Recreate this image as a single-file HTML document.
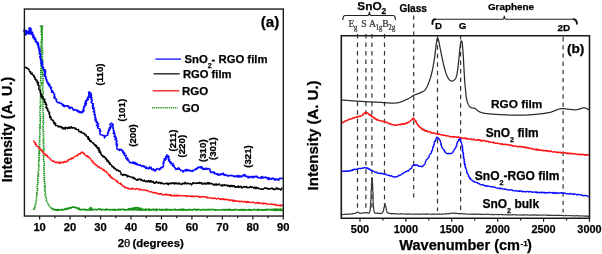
<!DOCTYPE html>
<html><head><meta charset="utf-8"><style>
html,body{margin:0;padding:0;background:#fff;}
svg{display:block;will-change:transform;filter:blur(0.3px);}
</style></head><body>
<svg width="602" height="254" viewBox="0 0 602 254">
<rect width="602" height="254" fill="#fff"/>
<polyline points="33.68,209.99 33.73,209.69 33.72,209.28 34.29,209.00 33.98,208.34 34.44,207.90 34.86,207.37 34.58,206.60 35.03,206.01 35.17,205.63 34.94,205.15 35.24,204.82 35.54,204.48 35.51,204.04 35.78,203.66 35.56,203.14 35.71,202.68 35.75,202.17 36.09,201.67 36.45,201.13 36.35,200.45 36.56,199.78 36.43,198.99 36.69,198.65 36.35,198.22 36.51,197.85 36.78,197.48 36.85,197.08 36.71,196.65 36.55,196.21 36.70,195.80 36.71,195.36 36.79,194.91 37.15,194.49 36.82,193.99 37.27,193.55 37.31,193.07 36.85,192.54 37.08,192.06 37.19,191.55 36.95,191.01 37.23,190.50 37.55,189.98 37.12,189.40 37.45,188.86 37.20,188.27 37.51,187.71 37.74,187.13 37.36,186.50 37.29,185.88 37.37,185.26 37.68,184.65 37.41,183.98 37.48,183.58 37.75,183.18 38.03,182.77 37.75,182.33 37.76,181.90 37.93,181.48 37.63,181.02 37.95,180.59 37.73,180.13 38.02,179.69 38.25,179.25 37.74,178.76 38.06,178.31 38.12,177.84 37.87,177.35 37.96,176.88 38.43,176.42 38.45,175.94 37.95,175.42 38.33,174.95 38.50,174.46 38.10,173.94 38.35,173.45 38.03,172.92 38.25,172.42 38.46,171.92 38.44,171.40 38.57,170.89 38.18,170.35 38.37,169.83 38.70,169.32 38.56,168.78 38.50,168.24 38.50,167.71 38.87,167.19 38.65,166.63 38.34,166.08 38.84,165.55 38.58,165.00 38.67,164.45 38.56,163.89 38.72,163.35 38.67,162.79 38.56,162.23 38.91,161.68 38.61,161.11 39.05,160.57 38.62,159.99 39.09,159.56 39.12,159.12 38.96,158.67 39.10,158.24 38.84,157.80 39.16,157.38 38.99,156.95 38.89,156.52 39.35,156.12 39.03,155.69 39.03,155.28 39.34,154.87 39.07,154.45 39.27,154.04 38.99,153.62 39.41,153.22 39.08,152.79 38.97,152.37 39.54,151.98 39.08,151.55 39.56,151.15 39.61,150.73 39.40,150.30 39.06,149.86 39.11,149.43 39.21,149.01 39.34,148.58 39.49,148.14 39.72,147.71 39.38,147.25 39.27,146.79 39.54,146.34 39.30,145.87 39.29,145.40 39.59,144.93 39.69,144.45 39.33,143.95 39.58,143.46 39.75,142.96 39.80,142.45 39.59,141.92 39.91,141.40 39.50,140.85 39.85,140.31 39.90,139.76 39.98,139.19 39.77,138.60 39.55,138.01 39.54,137.41 39.84,136.81 39.65,136.18 39.94,135.55 39.63,134.89 40.06,134.25 39.75,133.57 39.64,132.88 39.75,132.18 39.94,131.47 40.02,130.74 39.93,130.00 39.81,129.62 40.01,129.24 40.29,128.86 40.06,128.46 40.31,128.07 39.77,127.65 40.36,127.26 40.30,126.84 40.11,126.42 40.10,126.00 40.12,125.57 40.35,125.15 39.85,124.70 40.21,124.27 40.16,123.83 40.02,123.38 40.28,122.93 40.29,122.48 39.93,122.01 40.29,121.55 40.16,121.09 40.19,120.62 40.28,120.14 39.94,119.66 40.28,119.19 40.15,118.70 40.46,118.22 40.08,117.72 40.45,117.24 40.40,116.74 40.35,116.24 40.50,115.74 40.01,115.23 40.35,114.73 40.37,114.22 40.42,113.71 40.27,113.19 40.07,112.67 40.15,112.15 40.41,111.63 40.17,111.11 40.10,110.58 40.29,110.06 40.36,109.53 40.41,109.00 40.12,108.46 40.57,107.93 40.32,107.40 40.60,106.86 40.14,106.32 40.71,105.79 40.51,105.24 40.75,104.70 40.76,104.16 40.68,103.62 40.25,103.06 40.40,102.52 40.34,101.97 40.68,101.43 40.33,100.88 40.36,100.33 40.30,99.78 40.32,99.23 40.82,98.69 40.85,98.14 40.49,97.59 40.72,97.04 40.57,96.49 40.61,95.94 40.52,95.39 40.69,94.84 40.46,94.29 40.48,93.75 40.65,93.20 40.46,92.65 40.62,92.11 40.93,91.57 40.38,91.01 40.44,90.47 40.87,89.94 40.43,89.39 40.55,88.85 40.92,88.32 40.78,87.78 40.56,87.24 40.47,86.70 40.61,86.17 40.63,85.64 40.94,85.12 41.05,84.59 40.95,84.06 41.02,83.54 41.05,83.02 41.02,82.50 41.06,81.98 41.09,81.47 40.58,80.95 40.72,80.44 40.69,79.93 40.91,79.43 40.85,78.92 40.77,78.42 41.07,77.93 40.82,77.43 40.71,76.94 40.76,76.45 40.88,75.97 40.97,75.49 40.96,75.01 40.89,74.54 40.74,74.06 40.88,73.60 40.84,73.14 40.76,72.67 40.99,72.22 40.78,71.77 41.10,71.32 41.08,70.88 40.78,70.43 41.08,70.00 40.91,69.40 40.99,68.80 41.09,68.20 41.20,67.58 41.28,66.96 41.20,66.33 40.90,65.70 41.11,65.06 40.99,64.42 40.81,63.77 41.14,63.12 41.10,62.47 41.35,61.82 41.03,61.15 41.35,60.49 41.17,59.82 40.93,59.15 41.31,58.48 41.06,57.81 41.22,57.14 40.95,56.46 40.92,55.79 41.48,55.12 40.96,54.44 41.03,53.76 41.05,53.09 41.02,52.42 41.46,51.75 41.58,51.08 41.38,50.41 41.23,49.74 41.54,49.09 41.32,48.42 41.10,47.76 41.45,47.11 41.26,46.46 41.21,45.82 41.25,45.17 41.30,44.54 41.19,43.91 41.45,43.29 41.62,42.67 41.45,42.05 41.12,41.44 41.53,40.84 41.14,40.25 41.43,39.66 41.67,39.09 41.56,38.52 41.71,37.96 41.63,37.40 41.35,36.85 41.28,36.32 41.47,35.79 41.62,35.28 41.36,34.77 41.42,34.28 41.68,33.80 41.45,33.32 41.61,32.86 41.59,32.41 41.83,31.98 41.29,31.54 41.40,31.13 41.76,30.74 41.71,30.35 41.37,29.97 41.40,29.62 41.46,29.27 41.67,28.95 41.89,28.64 41.49,28.33 41.49,28.05 41.79,27.79 41.64,27.53 41.90,27.31 42.00,27.10 41.97,26.90 41.85,26.71 41.73,26.54 41.47,26.37 41.93,26.28 41.69,26.15 41.74,26.06 41.85,26.00 42.05,26.00 41.82,25.92 41.80,26.15 41.55,26.02 42.06,25.89 41.91,25.98 41.60,26.09 41.69,26.17 41.57,26.28 42.05,26.38 41.85,26.54 41.62,26.71 41.87,26.88 41.80,27.09 41.62,27.31 42.11,27.53 42.19,27.78 41.72,28.06 41.90,28.34 42.13,28.63 41.76,28.95 42.10,29.27 42.20,29.62 42.11,29.98 42.28,30.34 42.07,30.74 41.85,31.14 42.05,31.55 41.76,31.98 42.32,32.40 42.25,32.86 42.28,33.32 42.03,33.80 42.26,34.28 41.99,34.78 42.09,35.28 42.06,35.80 41.91,36.32 41.95,36.86 41.88,37.40 42.35,37.95 42.23,38.51 41.89,39.09 42.23,39.66 42.31,40.25 42.20,40.84 42.39,41.44 42.00,42.05 42.14,42.67 42.47,43.28 41.96,43.91 42.23,44.54 42.40,45.17 42.20,45.82 42.00,46.47 42.37,47.11 42.58,47.76 42.48,48.42 42.57,49.08 42.30,49.75 42.44,50.41 42.13,51.08 42.52,51.75 42.65,52.42 42.38,53.09 42.60,53.76 42.50,54.44 42.56,55.11 42.59,55.79 42.33,56.47 42.16,57.14 42.51,57.81 42.35,58.48 42.55,59.15 42.21,59.82 42.43,60.49 42.76,61.15 42.34,61.81 42.66,62.47 42.77,63.12 42.80,63.77 42.31,64.42 42.40,65.06 42.62,65.70 42.51,66.33 42.43,66.96 42.82,67.58 42.45,68.20 42.46,68.80 42.33,69.41 42.86,70.00 42.56,70.44 42.61,70.88 42.41,71.32 42.71,71.77 42.54,72.22 42.40,72.68 42.74,73.14 42.64,73.60 42.42,74.07 42.95,74.53 42.39,75.02 42.79,75.49 42.71,75.97 42.82,76.45 42.52,76.95 42.69,77.44 42.57,77.93 42.96,78.42 42.50,78.93 42.55,79.43 42.64,79.93 42.92,80.44 42.90,80.95 42.80,81.46 43.03,81.97 42.51,82.50 42.84,83.01 42.52,83.54 42.99,84.06 42.72,84.59 42.64,85.12 42.74,85.64 42.88,86.17 43.13,86.70 42.88,87.24 42.92,87.78 42.59,88.32 42.58,88.86 42.60,89.40 42.59,89.94 43.09,90.47 43.18,91.02 43.03,91.56 43.21,92.10 43.15,92.65 42.88,93.20 43.11,93.75 42.87,94.30 43.02,94.84 43.09,95.39 42.68,95.94 43.16,96.49 42.75,97.04 42.97,97.59 42.89,98.14 43.21,98.68 42.86,99.24 42.78,99.79 43.20,100.33 43.04,100.88 42.94,101.43 43.05,101.98 42.89,102.52 42.97,103.07 43.17,103.61 42.96,104.16 42.91,104.70 43.10,105.24 43.03,105.78 43.01,106.32 43.12,106.86 43.36,107.39 43.17,107.93 42.96,108.47 42.99,109.00 43.39,109.53 43.16,110.06 43.10,110.59 43.14,111.11 43.37,111.63 43.08,112.16 43.06,112.67 43.16,113.19 42.93,113.71 43.15,114.22 43.50,114.72 43.34,115.23 43.09,115.74 43.47,116.23 42.95,116.74 43.12,117.23 43.08,117.73 43.45,118.21 43.55,118.70 43.04,119.19 43.26,119.67 43.31,120.14 43.27,120.62 43.12,121.09 43.37,121.55 43.13,122.02 43.50,122.47 43.02,122.93 43.20,123.38 43.43,123.83 43.34,124.27 43.10,124.71 43.44,125.14 43.22,125.58 43.10,126.00 43.08,126.42 43.50,126.84 43.19,127.25 43.30,127.66 43.19,128.06 43.64,128.46 43.44,128.85 43.42,129.24 43.21,129.62 43.43,130.00 43.68,130.74 43.59,131.47 43.23,132.18 43.21,132.88 43.40,133.56 43.71,134.22 43.30,134.88 43.25,135.52 43.60,136.14 43.49,136.76 43.62,137.36 43.76,137.94 43.36,138.53 43.71,139.09 43.76,139.65 43.27,140.20 43.77,140.73 43.37,141.26 43.35,141.78 43.69,142.28 43.62,142.79 43.72,143.28 43.43,143.76 43.28,144.24 43.42,144.71 43.57,145.18 43.55,145.64 43.63,146.09 43.45,146.54 43.73,146.98 43.74,147.42 43.48,147.86 43.75,148.28 43.31,148.72 43.47,149.14 43.81,149.56 43.91,149.98 43.57,150.40 43.85,150.82 43.64,151.24 43.58,151.65 43.46,152.07 43.72,152.49 43.63,152.90 43.48,153.33 43.89,153.74 43.78,154.16 43.50,154.59 43.78,155.01 43.45,155.45 43.96,155.87 43.97,156.31 43.81,156.76 43.76,157.20 43.83,157.65 43.92,158.11 43.80,158.57 43.54,159.05 43.53,159.52 43.72,160.00 43.96,160.52 43.78,161.05 44.04,161.57 44.11,162.11 43.69,162.65 44.02,163.19 44.10,163.73 43.71,164.28 44.15,164.82 44.09,165.37 44.16,165.92 43.73,166.48 43.87,167.03 44.19,167.58 44.27,168.13 43.78,168.70 44.26,169.24 43.93,169.80 43.96,170.36 44.04,170.91 44.12,171.46 44.17,172.01 44.27,172.56 44.07,173.12 44.38,173.65 44.20,174.20 44.35,174.74 44.30,175.28 44.01,175.83 44.22,176.36 44.19,176.89 44.21,177.42 44.62,177.93 44.17,178.46 44.13,178.98 44.23,179.49 44.38,179.99 44.21,180.49 44.17,180.99 44.59,181.46 44.67,181.94 44.59,182.42 44.80,182.88 44.69,183.35 44.81,183.80 44.87,184.25 44.66,184.70 44.92,185.12 44.65,185.56 44.45,185.99 44.56,186.40 44.98,186.78 44.59,187.19 44.94,187.55 44.59,187.95 44.71,188.31 44.83,189.15 44.95,189.94 44.68,190.72 45.20,191.39 44.84,192.09 45.31,192.69 45.44,193.27 45.42,193.84 45.59,194.36 45.18,194.92 45.62,195.34 45.46,195.83 45.70,196.24 45.72,196.66 45.54,197.11 45.75,197.48 46.00,197.83 45.80,198.26 46.23,198.56 46.38,198.91 46.09,199.37 46.10,199.77 46.25,200.14 46.47,200.79 46.53,201.44 46.74,202.00 47.15,202.44 47.58,202.82 47.60,203.37 47.91,203.75 48.02,204.23 48.45,204.50 48.85,204.76 49.07,205.17 49.37,205.50 49.39,206.09 49.77,206.50 50.19,206.86 50.65,207.17 50.84,207.73 51.35,207.97 51.73,208.33" fill="none" stroke="#169416" stroke-width="1.6" stroke-dasharray="1.4 0.8"/>
<polyline points="51.29,208.05 51.77,208.29 52.12,208.71 52.75,208.71 52.99,209.45 53.53,209.69 54.16,209.73 54.69,209.40 55.08,209.80 55.59,209.68 56.10,209.65 56.61,210.31 57.17,210.36 57.73,209.50 58.31,210.22 58.87,209.96 59.43,209.73 59.98,209.61 60.55,209.92 61.06,209.68 61.59,209.84 62.06,209.78 62.47,209.27 63.13,209.78 63.72,209.90 64.25,209.80 64.69,209.39 65.05,208.79 65.50,208.64 65.98,208.64 66.61,209.23 66.95,208.55 67.45,208.49 68.08,208.85 68.47,208.23 69.04,208.31 69.57,208.07 70.04,207.61 70.72,207.91 71.34,208.00 71.75,207.27 72.31,207.20 72.88,207.27 73.34,206.86 73.86,207.21 74.28,207.49 74.94,207.39 75.55,207.42 75.97,207.88 76.71,207.53 77.01,208.12 77.56,208.20 77.96,208.58 78.59,208.36 78.72,209.09 79.33,208.71 79.66,208.93 79.95,209.64 80.54,209.90 81.41,209.54 81.78,209.55 82.22,209.43 82.70,209.49 83.20,209.82 83.77,209.45 84.35,209.42 84.93,209.74 85.54,209.49 86.14,209.93 86.75,210.09 87.34,210.05 87.91,209.78 88.45,209.65 88.96,209.70 89.39,209.29 89.86,209.89 90.15,209.51 90.39,209.48 90.84,208.99 91.15,208.41 90.99,207.75 90.80,207.60 90.38,207.68 90.32,208.45 90.72,209.04 91.18,209.62 91.31,209.99 91.67,209.71 91.87,209.80 92.09,209.33 92.28,209.72 92.51,209.68 92.76,209.62 93.07,209.61 93.45,209.74 93.88,209.67 94.40,209.60 95.00,209.28 95.74,209.50 96.60,209.96 97.57,209.44 98.14,209.09 98.70,209.06 99.35,209.53 100.00,209.10 100.32,209.13 100.65,209.15 101.00,209.46 101.36,209.95 101.74,209.49 102.13,209.47 102.54,209.45 102.96,209.51 103.39,209.47 103.83,209.72 104.29,209.88 104.76,209.70 105.24,209.46 105.73,209.67 106.23,209.90 106.74,209.23 107.26,209.31 107.79,209.66 108.33,209.72 108.87,209.69 109.43,209.64 109.98,209.86 110.55,209.55 111.12,209.86 111.70,210.00 112.29,209.53 112.87,209.92 113.46,209.80 114.06,209.95 114.67,209.20 115.26,209.99 115.87,209.86 116.47,210.04 117.08,210.06 117.70,209.44 118.30,209.79 118.92,209.32 119.52,209.74 120.13,210.03 120.74,209.38 121.35,209.53 121.96,209.29 122.56,209.40 123.16,209.41 123.75,209.31 124.34,210.13 124.93,210.03 125.51,209.65 126.09,209.91 126.66,209.87 127.22,209.71 127.78,209.63 128.33,209.84 128.88,209.75 129.41,209.49 129.94,209.58 130.46,209.81 130.97,209.81 131.47,209.43 131.96,209.79 132.44,210.03 132.90,210.02 133.36,209.82 133.80,209.30 134.23,209.61 134.64,209.30 135.04,209.27 135.44,209.44 135.81,209.62 136.18,209.89 136.52,209.76 136.84,209.44 137.17,209.80 137.46,209.63 137.74,209.62 137.97,209.39 138.57,209.44 139.14,209.24 139.79,209.46 140.32,209.14 140.86,209.05 140.26,208.68 139.64,208.30 139.07,207.93 138.43,207.70 137.90,207.67 137.38,208.06 136.85,207.75 136.33,207.63 135.81,207.64 135.32,207.92 134.85,208.55 134.29,207.88 133.77,207.93 133.34,208.70 132.80,208.50 132.29,208.58 131.73,208.28 131.24,208.47 130.77,208.84 130.28,209.00 129.77,209.09 129.27,209.23 128.65,208.69 127.81,209.04 128.75,208.80 129.22,209.29 129.72,209.51 130.27,208.85 130.77,209.22 131.29,209.13 131.78,209.64 132.30,209.57 132.85,208.83 133.36,209.03 133.84,209.64 134.37,209.42 134.88,209.40 135.39,209.68 135.90,209.67 136.41,209.87 136.95,209.33 137.48,209.11 137.96,209.72 138.51,209.17 139.00,209.66 139.24,209.93 139.51,209.51 139.78,209.70 140.05,209.32 140.32,209.31 140.60,209.71 140.88,209.95 141.17,210.08 141.47,209.21 141.76,210.01 142.07,209.64 142.38,209.50 142.69,209.55 143.01,209.71 143.34,209.51 143.66,209.33 143.99,209.98 144.33,209.84 144.67,209.76 145.02,209.86 145.37,210.10 145.73,209.37 146.08,209.96 146.45,209.96 146.82,209.53 147.19,209.73 147.56,209.64 147.95,209.40 148.33,209.62 148.72,209.37 149.11,210.08 149.51,209.41 149.91,209.81 150.32,209.76 150.73,210.12 151.14,209.96 151.56,209.57 151.98,209.59 152.41,209.30 152.84,209.30 153.27,209.54 153.70,210.12 154.14,209.31 154.59,209.42 155.03,209.84 155.48,209.59 155.94,209.44 156.39,210.13 156.86,209.31 157.32,209.81 157.79,209.66 158.26,209.59 158.74,209.46 159.22,209.43 159.70,209.65 160.18,209.96 160.67,209.71 161.16,209.99 161.65,210.08 162.15,209.45 162.65,210.09 163.15,209.82 163.66,209.68 164.17,209.76 164.68,210.10 165.20,209.66 165.72,209.39 166.23,210.17 166.76,209.41 167.29,209.40 167.81,209.96 168.34,209.59 168.88,209.57 169.41,209.90 169.95,210.12 170.49,209.63 171.04,210.13 171.58,209.88 172.13,209.87 172.68,209.80 173.24,209.33 173.79,209.46 174.35,209.93 174.91,209.95 175.47,209.41 176.04,209.90 176.60,209.75 177.17,209.85 177.74,209.69 178.31,209.53 178.89,209.65 179.46,210.20 180.04,209.50 180.62,210.11 181.20,209.81 181.79,209.40 182.37,210.07 182.96,209.35 183.55,210.09 184.14,209.64 184.73,210.17 185.32,209.99 185.92,209.66 186.51,209.90 187.11,210.23 187.71,209.50 188.31,209.53 188.91,209.60 189.52,210.08 190.12,209.57 190.73,209.57 191.33,209.90 191.94,209.87 192.55,209.72 193.16,209.84 193.77,209.38 194.38,209.35 195.00,209.37 195.61,209.40 196.22,210.04 196.84,210.23 197.46,209.46 198.07,209.70 198.69,209.36 199.31,209.74 199.93,209.95 200.55,209.91 201.17,210.16 201.79,209.85 202.41,209.40 203.03,209.69 203.66,209.77 204.28,209.66 204.90,209.39 205.53,209.92 206.15,209.79 206.78,209.99 207.40,209.68 208.02,209.42 208.65,209.59 209.27,209.51 209.90,209.77 210.52,209.49 211.15,209.43 211.78,209.83 212.40,209.48 213.03,209.45 213.65,209.47 214.27,209.99 214.90,210.08 215.52,210.09 216.15,209.88 216.77,209.93 217.39,210.04 218.02,209.74 218.64,209.82 219.26,210.00 219.88,209.93 220.50,209.91 221.13,209.94 221.75,209.84 222.36,209.55 222.98,209.63 223.60,209.98 224.22,209.73 224.83,210.13 225.45,209.69 226.06,209.96 226.68,209.46 227.29,209.63 227.90,210.12 228.51,209.51 229.12,209.92 229.73,209.38 230.34,209.90 230.95,209.76 231.55,210.17 232.15,210.10 232.76,210.05 233.36,209.66 233.96,209.96 234.56,209.49 235.16,209.80 235.75,209.71 236.35,209.78 236.94,209.60 237.53,209.54 238.12,209.82 238.71,209.94 239.29,209.86 239.88,210.21 240.46,209.85 241.04,209.49 241.62,209.93 242.20,209.64 242.78,210.20 243.35,209.47 243.92,209.76 244.49,209.96 245.06,210.22 245.63,209.82 246.19,209.69 246.75,210.05 247.31,210.06 247.87,210.17 248.42,210.00 248.98,209.47 249.53,210.24 250.08,210.19 250.62,209.74 251.16,209.94 251.71,210.10 252.24,210.17 252.78,210.00 253.31,209.43 253.84,209.41 254.37,209.68 254.90,209.76 255.42,209.63 255.94,210.02 256.46,210.04 256.97,209.71 257.48,209.98 257.99,209.52 258.50,210.20 259.00,209.56 259.50,209.49 259.99,209.69 260.49,210.12 260.98,209.89 261.47,209.96 261.95,210.08 262.43,209.69 262.91,210.21 263.38,210.23 263.85,209.83 264.32,210.02 264.78,210.11 265.25,209.88 265.70,209.46 266.16,209.94 266.61,209.76 267.05,210.11 267.50,209.53 267.94,209.36 268.37,209.51 268.80,209.50 269.23,209.69 269.66,209.53 270.08,209.65 270.49,209.87 270.90,209.48 271.31,209.78 271.72,209.66 272.12,209.35 272.52,209.95 272.91,209.80 273.30,210.04 273.68,210.13 274.06,209.39 274.44,209.99 274.81,209.76 275.18,210.13 275.54,209.45 275.90,210.10 276.25,209.73 276.60,209.43 276.95,209.76 277.29,210.14 277.62,209.41 277.95,209.69 278.28,209.42 278.60,209.35 278.92,210.09 279.23,209.84 279.54,209.86 279.84,210.16 280.14,209.42 280.43,210.20 280.72,210.03 281.01,210.11 281.28,210.08 281.56,209.70 281.83,209.37 282.09,210.25 282.35,209.92 282.60,209.99" fill="none" stroke="#179217" stroke-width="1.6"/>
<polyline points="33.81,140.50 33.65,141.05 34.14,141.35 34.21,142.04 34.53,142.59 35.52,142.68 35.88,143.14 35.19,144.26 36.19,144.35 36.50,144.78 36.01,145.89 37.01,145.78 37.17,146.45 38.02,146.47 38.15,146.95 38.95,146.85 38.72,147.66 38.80,148.29 39.54,148.44 39.75,149.13 40.12,149.37 41.04,149.10 40.67,150.11 41.18,150.29 41.83,150.36 42.46,150.46 42.03,151.67 42.81,151.66 42.97,152.31 43.22,152.87 43.71,153.04 43.83,153.58 44.69,153.42 44.62,154.17 45.33,154.20 45.19,155.05 45.61,155.37 46.76,154.98 47.09,155.39 47.38,155.84 47.06,156.97 47.96,156.78 48.18,157.33 48.86,157.31 49.07,157.86 49.59,158.06 50.03,158.36 50.25,158.95 50.67,159.28 50.84,159.96 51.46,160.03 51.70,160.62 52.21,160.84 52.56,161.28 53.23,161.16 53.99,160.77 53.98,161.86 54.43,162.22 54.97,162.35 55.64,162.10 56.08,162.46 56.77,161.93 57.04,162.90 57.62,162.66 58.18,162.35 58.70,162.11 59.08,163.26 59.58,163.48 60.10,162.22 60.61,163.21 61.07,162.62 61.50,162.20 62.01,162.32 62.64,162.86 63.18,162.88 63.36,161.63 64.08,162.24 64.32,161.32 65.12,162.05 65.43,161.36 66.19,161.90 66.71,161.85 66.91,161.04 67.65,161.46 67.70,160.37 68.00,159.86 68.79,160.28 68.87,159.34 69.43,159.30 70.02,159.31 70.61,159.30 70.76,158.49 71.13,158.10 72.16,158.85 72.23,157.91 73.15,158.42 73.58,158.06 73.66,157.15 74.19,156.95 74.71,156.72 75.27,156.57 75.69,156.22 76.12,155.89 76.61,155.69 77.27,155.81 77.39,155.04 77.75,154.72 78.48,154.77 78.67,153.88 79.23,153.65 80.20,154.18 80.38,153.35 80.87,153.14 81.04,152.24 81.69,152.61 82.13,152.74 82.64,151.94 82.97,152.89 83.38,153.23 84.36,153.17 84.11,154.21 84.64,154.57 84.83,155.19 85.62,155.19 85.86,155.92 86.36,156.24 87.34,155.64 87.79,155.96 87.83,156.96 88.04,157.49 88.95,156.84 89.24,157.38 89.61,157.99 90.17,158.06 90.43,158.50 90.80,158.90 91.06,159.42 91.13,160.09 91.81,160.36 92.06,160.91 91.94,161.71 93.10,161.50 92.83,162.36 93.04,162.94 93.83,162.90 94.26,163.13 94.08,164.06 94.95,163.75 95.38,163.99 95.59,164.58 95.84,165.22 96.69,164.81 96.90,165.33 97.29,165.62 97.33,166.48 98.07,166.30 98.20,167.08 99.17,166.56 99.49,167.04 99.70,167.70 99.97,168.27 100.74,168.04 101.34,168.06 101.85,168.21 101.98,168.96 102.67,168.82 102.65,169.83 103.06,170.14 104.00,169.65 104.37,170.06 104.38,170.97 104.95,171.11 105.23,171.63 106.01,171.45 106.58,171.57 106.80,172.09 106.66,172.95 107.55,172.81 107.83,173.27 108.12,173.72 108.48,174.11 108.85,174.48 108.70,175.35 109.82,174.96 110.32,175.16 109.78,176.45 110.24,176.75 110.53,177.22 111.44,176.98 111.36,177.86 111.77,178.18 112.80,177.74 112.72,178.63 113.04,179.05 113.58,179.17 114.10,179.32 114.69,179.37 115.03,179.72 115.55,179.91 116.10,180.02 116.11,180.91 116.77,180.85 116.79,181.74 117.81,181.12 117.57,182.40 118.16,182.44 118.40,182.99 118.85,183.25 119.27,183.55 119.94,183.48 120.83,183.18 120.61,184.31 121.53,184.02 121.83,184.50 121.93,185.23 122.46,185.42 122.96,185.62 122.91,186.51 123.58,186.43 124.16,186.38 124.58,186.50 124.74,187.58 125.54,187.39 125.89,188.01 126.61,187.65 127.16,187.61 127.50,188.20 127.88,188.73 128.62,187.99 128.86,188.93 129.27,189.18 129.79,189.08 130.42,189.17 131.37,188.11 131.67,189.02 132.06,189.38 132.62,188.28 133.08,188.63 133.59,188.66 134.10,189.06 134.66,188.96 135.22,189.07 135.76,189.53 136.42,188.50 136.99,188.62 137.54,188.76 138.10,188.81 138.65,188.79 139.03,190.10 139.54,189.99 140.21,188.99 140.67,189.64 141.22,189.46 141.73,189.53 142.22,189.66 142.65,190.15 143.15,190.14 143.70,189.92 144.23,189.77 144.68,190.06 145.22,189.87 145.59,190.56 146.04,190.89 146.64,190.54 147.24,190.24 147.72,190.50 148.16,190.90 148.58,191.35 149.02,191.73 149.68,191.33 150.03,192.04 150.60,191.95 151.19,191.84 151.72,191.90 152.18,192.21 152.61,192.62 153.22,192.37 153.64,192.86 154.21,192.66 154.78,192.48 155.18,192.99 155.62,193.31 156.28,192.56 156.66,193.14 157.15,193.24 157.52,193.96 158.01,194.14 158.66,193.46 159.06,194.27 159.62,194.22 160.29,193.58 160.81,193.95 161.33,193.55 161.62,194.58 162.10,194.44 162.49,194.83 162.96,194.77 163.45,194.67 163.89,194.83 164.39,194.66 164.96,194.09 165.35,194.83 165.95,194.09 166.44,194.35 166.85,195.29 167.51,194.34 168.06,194.46 168.63,194.53 169.13,195.68 169.84,194.75 170.28,194.57 170.63,195.74 171.15,194.77 171.53,195.81 172.01,195.60 172.47,195.86 172.94,196.05 173.45,195.55 173.93,195.88 174.48,194.84 174.93,195.89 175.46,195.56 175.96,195.86 176.52,195.04 177.01,195.96 177.53,196.24 178.12,195.04 178.64,195.43 179.17,195.79 179.70,196.18 180.28,195.39 180.84,195.32 181.39,195.45 181.92,195.98 182.47,196.20 183.05,195.72 183.61,195.71 184.08,195.78 184.56,195.74 185.03,195.85 185.53,195.40 185.98,196.01 186.44,196.69 186.95,195.92 187.42,196.41 187.94,195.60 188.40,196.36 188.89,196.47 189.39,196.37 189.90,196.17 190.40,196.14 190.90,196.39 191.39,196.76 191.94,195.74 192.46,195.68 192.94,196.62 193.45,196.88 193.99,196.34 194.53,196.26 195.04,196.68 195.61,195.96 196.14,196.10 196.69,196.04 197.20,196.62 197.78,196.27 198.34,196.20 198.85,196.88 199.38,197.29 200.02,196.42 200.43,197.02 200.93,196.66 201.34,197.31 201.84,196.98 202.36,196.58 202.84,196.56 203.35,196.33 203.77,197.02 204.27,196.93 204.79,196.69 205.26,197.00 205.76,197.00 206.19,197.69 206.79,196.86 207.16,198.10 207.74,197.44 208.23,197.66 208.76,197.54 209.21,198.11 209.72,198.15 210.28,197.84 210.80,197.79 211.28,198.19 211.77,198.43 212.36,197.86 212.82,198.38 213.30,198.76 213.89,198.14 214.45,197.87 214.96,197.93 215.39,198.67 215.91,198.67 216.38,199.12 216.91,199.04 217.52,198.25 218.03,198.23 218.53,198.39 219.05,198.35 219.47,199.13 219.94,199.40 220.43,199.51 221.03,198.67 221.42,199.58 222.00,198.87 222.46,199.08 222.89,199.57 223.48,198.73 223.95,198.80 224.30,199.89 224.86,199.19 225.32,199.34 225.76,199.71 226.21,199.90 226.80,199.03 227.21,199.55 227.66,199.75 228.12,199.88 228.64,199.55 229.05,200.13 229.46,200.71 230.04,199.98 230.50,200.26 231.05,199.73 231.51,200.00 231.94,200.61 232.53,199.90 232.89,201.04 233.40,201.13 234.04,200.06 234.41,201.29 235.03,200.57 235.49,201.18 236.02,201.22 236.64,200.64 237.12,201.23 237.68,201.27 238.22,201.54 238.87,200.85 239.38,201.59 239.93,201.94 240.42,201.59 240.89,201.44 241.41,200.90 241.82,201.48 242.32,201.33 242.75,201.89 243.24,201.88 243.76,201.78 244.31,201.29 244.75,201.98 245.27,202.01 245.85,201.43 246.28,202.48 246.84,202.20 247.44,201.51 247.87,202.69 248.51,201.63 249.03,201.95 249.52,202.54 250.08,202.42 250.63,202.41 251.17,202.59 251.75,202.38 252.32,202.23 252.88,202.09 253.45,201.99 253.92,202.94 254.46,203.05 255.04,202.81 255.56,203.13 256.15,202.65 256.71,202.57 257.23,202.78 257.71,203.51 258.35,202.41 258.82,203.10 259.38,202.79 259.83,203.56 260.40,203.03 260.92,203.05 261.41,203.20 261.89,203.44 262.36,203.80 262.90,203.27 263.31,204.00 263.88,203.02 264.33,203.29 264.81,203.09 265.25,203.15 265.60,204.12 266.04,204.09 266.53,203.38 266.94,203.43 267.31,203.78 267.97,204.31 268.65,204.48 269.35,204.46 270.05,204.31 270.77,203.76 271.39,204.18 272.06,203.97 272.64,204.50 273.24,204.62 273.90,204.18 274.48,204.31 274.97,205.12 275.65,204.14 276.08,205.27 276.59,205.46 277.10,205.60 277.69,204.87 278.15,205.16 278.61,205.26 279.06,205.38 279.44,205.91 279.90,205.55 280.36,205.06 280.65,205.88 281.08,205.40 281.40,205.61 281.71,205.82 282.13,204.85 282.29,205.95 282.57,205.83" fill="none" stroke="#ff1414" stroke-width="1.3" stroke-linejoin="round"/>
<polyline points="24.46,67.78 24.74,67.34 25.40,67.16 25.97,67.88 26.47,67.48 26.46,68.23 27.07,68.24 27.80,68.15 27.68,68.84 28.19,68.94 28.72,68.92 28.65,69.55 29.20,69.55 29.27,70.29 29.29,71.16 29.75,71.31 29.86,71.80 30.75,71.53 30.40,72.45 30.22,73.22 31.20,72.95 31.06,73.75 32.47,72.95 31.86,74.30 32.17,74.64 32.36,74.98 32.89,75.00 33.44,75.04 34.03,75.14 33.79,75.74 33.58,76.33 34.36,76.36 34.41,76.80 34.11,77.43 35.07,77.36 35.06,77.82 35.56,78.05 34.50,78.94 35.17,79.13 35.30,79.53 36.24,79.61 36.71,79.88 36.29,80.51 36.09,81.05 37.41,80.97 37.41,81.42 37.63,81.79 37.10,82.47 38.45,82.38 37.30,83.30 38.65,83.25 37.84,83.99 37.72,84.46 38.30,84.71 37.96,85.26 38.88,85.40 39.31,85.69 38.96,86.24 39.26,86.58 38.78,87.17 38.90,87.57 38.98,87.98 38.62,88.53 39.25,88.77 39.16,89.23 38.89,89.75 39.27,90.06 39.72,90.36 40.66,90.47 40.69,90.88 40.44,91.40 40.30,91.88 40.01,92.42 40.35,92.72 40.57,93.07 41.15,93.28 40.79,93.85 41.62,93.96 40.81,94.70 41.47,94.88 41.99,95.11 40.54,96.10 40.95,96.37 42.01,96.40 42.84,96.51 41.62,97.41 41.78,97.78 43.27,97.64 42.44,98.39 42.35,98.85 43.16,98.97 44.03,99.07 44.83,99.21 45.01,99.58 44.29,100.29 43.98,100.83 44.20,101.18 45.14,101.28 44.29,102.01 45.64,101.97 44.76,102.70 45.64,102.83 46.10,103.10 46.14,103.51 45.13,104.29 46.30,104.32 46.80,104.57 46.32,105.17 46.74,105.45 46.20,106.07 46.29,106.43 46.04,106.98 45.81,107.66 47.01,107.34 46.59,108.21 47.51,108.17 47.55,108.65 47.90,108.99 47.10,109.72 48.02,109.82 47.63,110.40 47.45,110.91 48.27,111.05 48.89,111.27 49.12,111.62 48.85,112.16 49.23,112.46 49.84,112.68 48.73,113.52 49.00,113.86 49.03,114.29 49.50,114.55 49.68,114.92 49.53,115.44 49.67,115.83 50.25,115.96 49.60,116.80 49.51,117.32 51.00,116.93 50.94,117.43 50.95,117.89 50.99,118.34 50.71,119.05 51.52,119.02 51.19,119.85 52.14,119.63 52.23,120.11 52.98,120.04 52.69,120.84 53.43,120.78 53.84,120.99 53.48,121.85 53.58,122.31 53.50,122.97 54.80,122.45 54.04,123.68 54.40,123.96 55.79,123.35 55.13,124.50 55.20,125.10 55.46,125.55 56.33,125.35 56.99,125.30 57.20,125.76 57.40,126.20 57.86,126.35 58.69,126.04 58.51,127.11 59.33,126.67 60.13,126.08 60.25,126.91 60.83,126.74 60.96,127.60 61.71,126.76 61.79,127.72 62.32,127.40 62.31,128.73 62.79,128.56 63.40,127.77 63.70,129.03 64.13,128.46 64.43,127.92 65.29,129.21 65.10,127.27 65.80,128.06 66.20,128.08 66.50,127.48 66.96,128.08 67.31,128.70 67.83,127.62 68.24,128.10 68.76,126.86 69.10,128.45 69.54,128.39 70.06,127.21 70.38,128.22 70.90,127.24 71.38,126.70 71.75,127.16 72.05,128.32 72.51,127.88 72.92,128.15 73.42,127.62 73.88,127.45 74.27,127.83 74.65,128.25 74.91,129.00 75.56,128.24 76.08,128.18 75.81,129.48 76.36,129.41 76.81,129.50 77.11,129.81 77.76,129.58 78.22,129.63 78.76,129.50 78.63,130.60 78.80,131.16 78.98,131.70 79.47,131.60 80.06,131.42 80.38,131.67 80.26,132.51 81.57,131.49 81.61,132.13 81.68,132.75 82.12,132.87 82.42,133.17 83.22,132.82 83.35,133.35 83.98,133.22 84.08,133.79 84.71,133.66 84.78,134.28 84.79,134.93 85.40,134.87 86.15,134.72 85.96,135.50 85.90,136.15 86.61,136.03 86.90,136.33 87.11,136.70 87.26,137.14 88.35,136.64 87.74,137.84 88.69,137.47 87.80,138.95 88.94,138.39 88.44,139.48 89.71,138.80 89.35,139.75 89.76,139.93 89.50,140.77 89.65,141.22 90.89,140.56 91.31,140.73 90.70,141.93 91.40,141.81 91.80,142.00 92.17,142.21 92.48,142.49 92.54,143.02 93.14,143.01 93.81,142.92 93.89,143.44 93.70,144.20 94.22,144.27 94.62,144.46 94.35,145.20 95.40,144.85 95.71,145.12 95.46,145.85 96.52,145.49 95.85,146.56 96.89,146.23 96.44,147.11 96.85,147.30 96.82,147.84 98.08,147.33 97.57,148.27 97.71,148.67 99.24,147.93 98.34,149.19 99.03,149.15 98.68,149.96 98.41,150.68 99.94,149.97 99.68,150.71 99.71,151.20 99.13,152.17 99.30,152.57 100.83,151.91 100.95,152.33 100.76,153.00 100.66,153.60 101.03,153.83 101.46,154.03 101.14,154.79 101.50,155.04 101.59,155.49 102.38,155.40 103.12,155.35 102.87,156.06 103.00,156.49 102.88,157.11 104.19,156.60 104.80,156.66 104.73,157.25 105.26,157.36 105.24,157.91 105.94,157.89 105.28,158.96 105.86,159.03 106.50,159.05 106.96,159.23 106.56,160.08 107.43,159.92 106.72,161.02 107.94,160.59 107.46,161.50 108.88,160.91 108.70,161.59 108.43,162.35 109.00,162.41 109.29,162.70 109.10,163.47 110.29,162.87 109.49,164.26 110.09,164.25 110.61,164.31 110.83,164.68 111.23,164.87 111.31,165.38 111.95,165.33 112.13,165.74 112.01,166.44 112.06,166.97 112.62,167.00 113.63,166.56 113.57,167.24 113.88,167.54 113.77,168.37 114.71,167.87 114.74,168.51 114.89,169.02 115.78,168.58 116.08,168.89 116.06,169.60 116.60,169.61 116.44,170.50 117.54,169.79 118.05,169.84 118.06,170.50 118.53,170.57 118.60,171.22 119.00,171.38 119.85,170.81 120.11,171.20 120.17,171.92 120.54,172.12 120.69,172.68 121.10,172.83 120.87,174.01 121.07,174.50 121.62,174.42 121.95,174.73 122.23,175.11 123.20,174.29 123.02,175.50 124.13,174.38 124.61,174.39 124.71,175.08 125.50,174.54 125.86,174.77 125.89,175.58 126.75,174.91 126.93,175.46 127.29,175.68 127.06,177.06 128.14,175.66 128.24,176.43 128.60,176.58 129.13,176.09 129.45,176.51 129.85,176.54 130.19,176.84 130.54,177.08 130.99,176.91 131.37,177.04 131.73,177.26 132.07,177.58 132.46,177.65 133.04,176.97 133.14,178.26 133.70,177.62 133.84,178.75 134.46,177.90 134.69,178.67 135.18,178.36 135.38,179.31 135.72,179.65 136.15,179.59 136.56,179.58 136.78,180.46 137.51,179.03 137.64,180.33 138.23,179.52 138.60,179.72 139.22,178.81 139.61,178.92 139.98,179.14 140.29,179.60 140.80,179.18 140.96,180.29 141.58,179.35 141.81,180.24 142.12,180.74 142.57,180.54 142.91,180.92 143.36,180.73 143.68,181.17 144.34,179.90 144.52,181.06 144.99,180.77 145.33,181.09 145.60,181.83 146.01,181.80 146.60,180.91 146.95,181.18 147.42,180.90 147.64,181.85 148.02,182.00 148.70,180.64 149.08,180.75 149.48,180.78 149.64,182.22 150.33,180.53 150.63,181.14 150.91,181.91 151.46,181.04 151.70,182.01 152.23,181.32 152.50,182.09 152.93,181.94 153.41,181.54 153.59,182.86 154.05,182.52 154.31,183.38 154.84,182.65 155.17,183.10 155.63,182.86 156.22,181.50 156.64,181.31 156.87,182.97 157.33,182.57 157.72,182.85 158.12,183.03 158.61,182.29 158.95,183.06 159.38,182.86 159.88,182.07 160.22,182.80 160.55,183.64 161.01,183.25 161.38,183.66 161.92,182.45 162.29,182.92 162.67,183.27 163.06,183.56 163.44,184.15 163.90,183.70 164.31,183.78 164.77,183.35 165.16,183.71 165.59,183.60 166.03,183.29 166.46,183.15 166.82,184.07 167.31,183.16 167.67,183.99 168.14,183.29 168.44,184.84 168.98,183.24 169.39,183.47 169.81,183.31 170.20,184.04 170.61,183.73 171.02,182.99 171.42,182.68 171.83,183.75 172.24,183.01 172.64,182.82 173.05,182.57 173.45,183.68 173.86,183.55 174.26,184.07 174.67,182.66 175.08,183.68 175.48,182.97 175.89,183.75 176.29,182.88 176.70,183.00 177.11,183.95 177.51,183.21 177.92,184.08 178.32,183.02 178.73,182.89 179.14,183.96 179.54,183.14 179.95,183.30 180.35,184.25 180.76,183.82 181.16,184.23 181.57,184.57 181.98,184.48 182.38,183.14 182.79,183.32 183.19,183.62 183.59,183.16 184.02,184.02 184.39,182.81 184.83,183.85 185.18,182.09 185.62,183.07 186.04,183.34 186.46,183.74 186.85,183.27 187.28,184.00 187.65,182.91 188.07,183.36 188.48,183.30 188.89,183.42 189.31,183.94 189.73,184.15 190.11,183.38 190.53,183.78 190.94,183.86 191.39,185.08 191.76,183.86 192.17,184.12 192.54,182.86 192.98,183.84 193.34,182.45 193.75,182.52 194.18,183.24 194.58,183.07 194.99,183.05 195.40,183.46 195.81,182.92 196.20,183.50 196.63,182.94 197.03,183.17 197.43,183.43 197.86,182.65 198.24,183.43 198.65,183.36 199.06,183.52 199.51,182.13 199.88,183.11 200.31,182.64 200.71,182.70 201.10,183.42 201.48,183.99 201.94,182.60 202.31,183.76 202.70,184.04 203.10,184.28 203.52,183.92 203.96,183.07 204.34,183.87 204.76,183.37 205.18,183.04 205.55,184.12 205.99,183.29 206.37,184.04 206.77,184.03 207.24,182.94 207.70,182.50 208.00,183.80 208.54,182.55 208.95,182.55 209.21,184.08 209.72,183.08 210.13,183.06 210.52,183.28 210.86,183.99 211.35,183.26 211.72,183.65 212.13,183.61 212.51,183.90 212.85,184.60 213.27,184.52 213.67,184.68 214.01,185.38 214.57,183.93 214.96,184.08 215.31,184.74 215.77,184.22 216.08,185.22 216.63,183.85 216.92,185.05 217.38,184.56 217.80,184.44 218.18,184.79 218.65,184.16 219.09,183.93 219.50,183.97 219.83,184.75 220.20,185.14 220.61,185.15 220.96,185.73 221.40,185.48 221.78,185.73 222.31,184.57 222.58,186.01 223.04,185.53 223.47,185.27 223.93,184.83 224.27,185.53 224.78,184.56 225.14,185.10 225.50,185.57 225.95,185.19 226.37,185.11 226.79,185.01 227.16,185.44 227.48,186.28 227.98,185.41 228.36,185.79 228.82,185.28 229.13,186.30 229.52,186.50 230.00,185.73 230.30,186.84 230.88,185.30 231.28,185.55 231.73,185.42 232.01,186.71 232.58,185.55 232.89,186.58 233.44,185.50 233.84,185.74 234.28,185.60 234.55,187.14 235.01,186.47 235.35,187.48 235.81,186.75 236.22,186.67 236.63,186.66 237.01,187.09 237.43,186.91 237.80,187.43 238.32,185.80 238.73,185.81 239.02,187.50 239.45,187.08 239.86,187.13 240.28,186.91 240.74,186.11 241.12,186.57 241.44,187.82 241.89,187.23 242.24,188.08 242.68,187.55 243.13,186.90 243.57,186.50 243.99,186.38 244.32,187.41 244.79,186.55 245.17,186.96 245.57,187.01 245.97,187.22 246.43,186.36 246.79,187.09 247.14,187.86 247.57,187.55 248.00,187.24 248.39,187.58 248.79,187.66 249.18,187.89 249.64,187.17 250.10,186.36 250.50,186.33 250.85,187.28 251.25,187.35 251.68,187.03 252.06,187.49 252.50,186.98 252.90,187.09 253.30,187.27 253.66,188.03 254.03,188.51 254.52,187.18 254.94,186.98 255.32,187.54 255.65,188.64 256.06,188.73 256.57,187.11 256.94,187.58 257.34,187.71 257.70,188.51 258.13,188.08 258.55,187.93 258.90,188.87 259.33,188.48 259.73,188.66 260.12,188.81 260.51,189.17 260.93,188.87 261.32,189.26 261.76,188.71 262.15,188.97 262.54,189.35 262.95,189.29 263.36,189.27 263.80,188.63 264.22,188.14 264.64,187.93 265.06,187.64 265.41,188.64 265.83,188.27 266.22,188.53 266.63,188.53 267.07,187.73 267.44,188.38 267.84,188.46 268.20,189.48 268.63,188.92 269.05,188.60 269.45,188.64 269.82,189.22 270.26,188.59 270.66,188.62 271.09,188.15 271.49,188.17 271.86,188.82 272.31,187.88 272.67,188.75 273.06,189.20 273.44,189.59 273.89,188.61 274.27,189.07 274.65,189.63 275.08,189.11 275.46,189.48 275.90,188.83 276.34,187.78 276.70,188.90 277.13,187.88 277.54,188.99 277.96,188.23 278.39,189.26 278.81,189.31 279.23,188.90 279.65,188.94 280.07,188.86 280.49,190.12 280.91,189.08 281.34,189.83 281.76,188.20 282.18,187.98 282.60,187.88" fill="none" stroke="#000" stroke-width="1.3" stroke-linejoin="round"/>
<polyline points="24.56,29.52 23.97,29.97 24.98,30.29 24.43,30.74 23.94,31.18 23.91,31.59 24.82,31.91 25.22,32.28 24.76,32.73 24.62,33.14 25.30,33.49 24.84,33.93 24.40,34.37 26.28,34.61 26.20,34.85 25.27,34.99 25.28,35.04 25.96,34.80 25.63,34.27 25.78,33.87 25.44,33.35 26.30,33.14 26.42,32.73 25.73,32.11 25.18,31.52 25.47,30.85 26.51,30.48 26.20,31.75 27.40,31.61 26.75,32.35 26.72,32.84 26.22,33.95 27.58,32.94 28.42,33.90 28.23,32.94 27.99,32.36 29.13,32.47 29.70,32.29 29.18,31.57 28.26,30.65 29.89,31.00 28.97,30.08 29.35,29.81 29.66,29.50 28.80,28.28 30.10,27.71 31.03,28.73 31.62,29.36 31.44,29.80 30.03,30.36 30.58,30.72 29.63,31.24 31.23,31.49 30.78,31.96 30.93,32.36 29.59,32.92 29.75,33.32 29.57,33.76 30.58,34.03 30.63,33.78 30.66,34.02 30.54,33.43 30.46,32.83 31.34,32.78 31.88,31.88 32.78,32.36 32.67,33.27 31.77,34.13 31.86,34.57 32.68,34.69 33.60,34.73 32.45,35.80 33.64,35.61 32.96,36.57 34.26,36.21 32.81,37.72 33.77,37.59 34.21,37.80 35.07,37.78 34.56,38.58 34.11,39.29 35.35,39.14 36.00,39.30 35.34,40.13 34.98,40.80 36.09,40.73 35.96,41.28 35.54,41.96 37.04,41.73 36.30,42.55 37.10,42.67 38.17,42.67 38.60,42.96 36.90,44.20 38.25,44.08 38.67,44.37 37.71,45.26 38.44,45.45 38.58,45.84 39.02,46.17 38.01,46.80 38.99,46.99 38.89,47.43 38.30,47.97 38.69,48.30 39.72,48.48 39.89,48.86 38.98,49.47 38.74,49.93 40.25,50.01 38.62,50.78 40.19,50.86 40.11,51.31 40.03,51.76 39.77,52.25 39.34,52.77 39.10,53.25 40.55,53.39 39.51,54.03 40.88,54.19 40.01,54.80 40.64,55.11 40.44,55.58 40.96,55.91 39.71,56.57 40.71,56.79 39.69,57.41 40.61,57.64 40.21,58.14 40.57,58.48 41.15,58.78 40.47,59.33 40.24,59.80 41.51,59.96 41.59,60.36 40.66,60.96 42.29,61.05 41.86,61.54 41.68,62.01 40.54,62.79 42.55,62.58 41.76,63.29 41.64,63.77 41.75,64.17 43.12,64.14 41.20,65.24 42.49,65.23 41.63,65.96 42.37,66.15 42.91,66.40 42.26,67.06 42.74,67.33 43.68,67.45 42.95,68.13 43.56,68.36 43.22,68.92 43.82,69.15 43.50,69.70 44.94,69.64 44.48,70.23 45.65,70.29 44.06,71.22 44.31,71.55 44.21,71.97 45.95,71.96 44.82,72.64 44.94,73.03 45.48,73.30 45.55,73.70 43.99,74.49 44.30,74.83 45.57,74.93 44.44,75.62 44.62,75.99 45.28,76.24 44.96,76.73 46.15,76.85 45.95,77.31 46.51,77.58 45.53,78.28 45.80,78.65 45.74,79.13 46.42,79.35 46.82,79.66 47.09,80.02 46.23,80.74 47.12,80.89 47.04,81.36 46.80,81.88 47.49,82.10 47.19,82.63 48.51,82.65 48.32,83.15 47.61,83.85 49.13,83.73 49.45,84.03 49.77,84.35 48.51,85.31 49.95,85.18 49.70,85.73 49.99,86.06 49.39,86.75 50.20,86.87 50.40,87.24 51.61,87.20 50.35,88.16 50.76,88.44 51.42,88.59 51.04,89.21 51.65,89.36 51.49,89.90 51.21,90.49 51.77,90.68 52.79,90.64 51.49,91.73 51.39,92.23 52.89,91.96 53.34,92.21 53.13,92.77 53.65,92.97 53.43,93.52 54.17,93.58 54.25,93.98 54.79,94.12 54.21,94.94 54.61,95.18 54.01,96.01 54.49,96.21 55.09,96.34 53.92,97.50 53.93,97.97 54.49,98.13 55.40,98.07 55.45,98.53 55.56,99.01 55.91,99.31 56.79,99.19 56.33,100.11 56.05,100.90 56.60,101.03 56.58,101.71 57.26,101.74 57.53,102.13 57.78,102.56 58.04,102.90 58.73,102.65 59.60,102.17 59.57,102.91 59.89,103.16 60.13,103.58 60.62,103.57 61.20,103.37 61.71,103.29 61.99,103.64 62.25,104.02 62.10,105.07 62.42,105.33 63.42,104.54 63.28,105.54 63.24,106.39 64.08,105.86 64.86,105.38 64.65,106.76 65.39,106.28 66.05,105.74 66.42,106.10 67.05,105.65 67.46,105.91 67.68,106.55 68.29,106.03 68.67,106.17 68.72,107.26 68.90,107.97 69.33,107.97 70.11,107.08 69.97,108.69 70.94,107.32 71.32,107.52 71.85,107.40 72.35,107.41 72.29,108.68 72.51,109.29 73.17,109.04 73.29,109.94 74.04,109.39 74.24,110.30 74.80,110.00 75.28,109.88 75.80,109.50 76.21,109.80 76.60,110.01 76.51,110.85 77.68,110.25 77.94,110.63 77.54,111.64 79.00,110.77 78.50,112.00 79.33,111.66 79.32,112.55 79.82,112.55 80.01,111.87 80.73,112.96 80.78,112.19 81.05,111.68 81.58,112.18 81.63,112.31 82.36,111.68 82.59,112.90 82.35,111.75 83.23,111.79 82.37,111.04 83.57,111.04 84.17,110.82 83.94,110.30 83.00,109.51 83.93,109.42 83.88,108.96 84.02,108.58 83.38,107.90 83.91,107.66 84.28,107.36 83.73,106.73 84.95,106.73 84.24,106.06 84.75,105.81 84.44,105.27 84.82,104.98 86.34,105.06 85.11,104.22 84.72,103.67 85.20,103.40 86.59,103.44 85.11,102.52 85.37,102.18 85.28,101.72 86.44,101.69 86.26,101.20 85.76,100.61 87.21,100.67 86.57,100.02 87.54,99.94 87.32,99.43 88.51,99.43 87.05,98.46 87.52,98.21 87.53,97.78 87.62,97.38 89.19,97.53 88.72,96.92 88.22,96.31 88.37,95.93 89.24,95.82 88.90,95.26 88.72,94.77 89.33,94.56 89.19,94.08 88.80,93.50 88.71,93.03 88.43,92.16 89.64,91.90 89.78,92.85 91.04,92.98 91.04,93.40 90.54,93.95 90.36,94.41 91.47,94.55 90.88,95.12 90.34,95.68 91.69,95.76 91.48,96.24 89.95,97.04 89.84,97.49 91.86,97.40 92.01,97.79 91.05,98.45 91.72,98.70 91.02,99.30 92.19,99.42 91.45,100.03 92.26,100.25 92.07,100.72 91.26,101.34 91.90,101.60 91.08,102.21 91.23,102.58 91.90,102.84 91.82,103.27 93.30,103.38 92.74,103.90 93.16,104.23 92.57,104.76 93.49,104.98 92.34,105.62 93.36,105.83 92.65,106.38 92.46,106.83 92.45,107.24 93.82,107.37 92.69,108.01 92.59,108.44 94.51,108.47 93.08,109.17 93.47,109.50 93.81,109.84 94.27,110.16 94.74,110.47 94.05,111.02 93.19,111.60 94.42,111.77 94.88,112.08 94.17,112.64 94.33,113.01 94.02,113.49 94.38,113.82 94.58,114.19 95.41,114.44 94.15,115.11 94.49,115.45 95.19,115.70 95.06,116.14 95.12,116.54 95.66,116.82 94.69,117.49 95.02,117.82 95.84,118.03 95.80,118.46 95.15,119.04 96.16,119.20 94.66,120.00 96.40,119.97 95.36,120.65 96.09,120.89 95.93,121.34 97.29,121.41 97.15,121.87 96.11,122.55 96.44,122.88 97.69,122.98 97.25,123.51 98.49,123.61 98.38,124.03 98.00,124.54 96.36,125.46 97.68,125.47 97.75,125.88 98.56,126.05 98.74,126.42 97.43,127.28 97.89,127.56 97.71,128.05 98.00,128.38 98.43,128.67 99.63,128.71 100.00,129.02 99.91,129.48 100.37,129.76 100.26,130.23 99.31,130.97 99.99,131.10 100.92,130.98 100.53,131.57 99.65,132.69 99.77,133.14 100.04,133.47 100.24,133.86 99.97,134.61 100.92,134.42 101.25,134.72 101.47,135.10 102.09,135.09 102.80,134.99 102.93,135.44 103.09,135.87 104.00,135.56 104.58,135.59 104.64,136.11 104.59,136.30 104.36,137.96 104.55,136.67 105.04,136.92 105.36,136.63 105.56,136.16 105.73,135.76 106.29,135.80 106.42,135.38 107.11,135.34 107.61,135.13 107.95,134.82 107.48,133.99 107.45,133.45 107.70,133.11 108.67,133.13 107.90,132.32 107.86,131.89 108.64,131.70 108.38,131.15 108.32,130.67 109.48,130.62 109.51,130.17 108.82,129.46 109.85,129.37 109.01,128.61 110.56,128.70 109.21,127.79 110.61,127.86 110.75,127.48 110.63,127.00 110.11,126.39 110.99,126.27 110.66,125.72 110.99,125.41 109.77,124.54 110.21,123.87 111.59,123.06 112.56,124.14 113.34,124.63 112.16,125.41 112.99,125.60 112.71,126.12 112.62,126.58 112.27,127.11 113.41,127.21 113.01,127.77 112.83,128.25 112.87,128.68 113.47,128.93 113.50,129.36 113.33,129.84 113.41,130.25 113.25,130.73 114.28,130.89 113.60,131.50 113.53,131.94 114.45,132.17 114.66,132.55 113.09,133.28 114.91,133.34 113.87,133.96 114.23,134.31 114.94,134.59 114.74,135.05 115.06,135.40 114.91,135.85 113.97,136.46 115.72,136.53 115.26,137.04 114.81,137.55 115.34,137.86 116.60,138.03 116.29,138.51 116.21,138.95 114.88,139.63 116.07,139.81 116.84,140.08 116.32,140.60 116.42,141.00 117.11,141.28 116.16,141.89 116.01,142.34 116.71,142.62 116.73,142.98 116.32,143.49 115.87,144.10 116.74,144.16 117.61,144.20 116.79,145.07 116.50,145.68 117.20,145.79 116.62,146.55 117.21,146.72 116.81,147.38 116.92,147.79 116.94,148.25 116.74,148.81 117.47,148.91 117.63,149.30 117.90,149.63 119.06,149.53 118.85,150.09 119.23,150.41 119.94,149.47 119.88,150.58 119.75,149.28 120.51,149.44 121.12,149.31 121.44,150.10 121.79,150.46 122.53,150.31 122.24,151.30 123.26,150.94 123.38,151.50 122.67,152.55 123.81,152.36 123.55,153.01 123.39,153.60 125.00,153.21 123.90,154.34 124.37,154.58 124.71,154.87 124.54,155.49 124.74,155.87 126.36,155.32 125.91,156.12 126.02,156.55 125.99,157.08 125.76,157.77 125.93,158.20 126.10,158.63 127.78,157.76 127.64,158.43 126.89,159.61 127.13,159.94 127.60,160.08 128.60,159.77 128.14,160.78 128.76,160.78 129.07,161.17 129.31,161.70 129.38,162.43 130.12,162.13 130.19,162.97 131.08,162.41 131.56,162.43 131.80,162.99 132.42,162.61 133.20,161.86 132.96,163.50 133.80,162.60 134.00,163.22 134.84,162.30 135.13,162.68 134.96,164.26 135.89,163.02 136.23,163.34 136.24,164.53 137.08,163.51 137.26,164.24 137.76,164.15 137.79,165.24 138.41,164.84 138.82,164.99 139.26,165.04 139.57,165.41 140.31,164.63 140.52,165.22 140.87,165.46 141.18,165.81 141.40,166.46 141.78,166.61 142.55,165.56 142.97,165.60 143.36,165.73 143.47,166.78 144.05,166.43 144.67,165.97 144.71,167.22 145.22,167.07 145.61,167.27 145.68,168.49 146.64,166.95 146.83,167.85 147.10,168.51 147.67,168.15 147.95,168.79 148.74,167.62 148.93,168.72 149.71,166.78 149.85,168.52 150.37,167.84 150.90,167.14 151.27,167.62 151.47,169.47 151.94,169.17 152.33,169.54 152.70,170.03 153.32,168.64 153.63,169.36 153.93,169.90 154.12,170.71 154.50,170.89 155.30,169.39 155.45,171.02 156.07,169.99 156.54,169.20 156.91,168.47 157.39,169.05 157.83,169.12 158.27,169.14 158.69,168.88 159.30,169.95 159.50,169.19 159.62,168.59 160.76,169.16 160.34,168.07 161.09,168.07 160.84,167.35 161.36,167.20 162.94,167.69 162.68,167.01 162.71,166.51 163.37,166.42 163.56,166.03 163.62,165.49 163.50,164.89 163.33,164.36 162.93,163.80 163.27,163.49 163.87,163.27 163.06,162.58 164.14,162.51 163.54,161.89 163.46,161.44 163.79,161.13 164.26,160.86 164.13,160.40 165.32,160.37 164.68,159.74 163.92,159.01 164.38,158.72 166.11,159.08 165.97,158.55 165.58,157.82 166.53,157.86 165.33,156.65 166.89,157.05 167.15,156.69 167.09,156.15 166.48,155.02 167.19,155.03 166.99,156.03 167.34,156.08 168.47,155.94 168.68,156.30 169.08,156.55 168.26,157.48 168.96,157.57 168.76,158.16 168.04,158.95 168.27,159.29 169.27,159.30 168.61,160.03 169.88,159.96 168.65,160.92 169.05,161.21 169.88,161.33 169.52,161.93 170.91,161.78 169.99,162.75 171.35,162.41 170.74,163.36 171.17,163.56 171.31,163.99 171.90,164.07 173.30,163.52 173.06,164.25 172.47,165.23 172.35,165.85 172.99,165.89 174.19,165.51 173.69,166.43 173.91,166.80 174.32,166.96 174.61,167.22 174.65,168.01 175.24,167.74 175.57,167.99 175.73,168.57 175.67,169.57 176.53,168.79 176.77,169.21 177.11,169.44 178.40,167.80 178.14,169.20 179.08,168.10 179.39,168.20 179.39,169.28 179.73,169.51 180.11,169.65 180.51,169.74 180.72,170.56 181.16,170.44 181.58,170.43 181.96,170.58 182.31,170.84 182.81,170.52 182.92,172.14 183.45,171.92 184.03,170.47 184.44,170.45 184.85,169.97 185.27,170.86 185.69,170.33 186.11,169.30 186.52,170.86 186.94,171.14 187.36,169.52 187.78,170.30 188.19,169.92 188.61,170.72 189.03,170.16 189.45,169.93 189.86,170.33 190.31,171.18 190.71,170.76 191.13,170.80 191.69,171.32 191.95,170.69 192.55,171.40 192.67,170.23 193.22,170.75 193.65,170.83 193.89,170.12 194.30,170.09 194.74,170.17 195.08,169.83 195.18,168.92 195.81,169.42 195.96,168.81 196.19,168.36 197.07,169.21 197.09,168.36 197.42,168.09 197.52,167.41 197.86,167.19 198.72,167.98 198.78,167.19 199.11,166.94 199.71,167.17 200.10,167.34 200.55,166.95 201.32,166.49 200.89,168.24 201.99,166.97 201.85,168.14 202.27,168.21 202.90,167.87 202.60,169.34 203.24,168.99 203.45,169.47 204.46,168.39 204.34,169.62 204.91,168.68 205.19,169.05 205.60,169.34 205.85,168.52 206.17,168.00 206.61,168.14 207.28,169.42 207.56,168.75 208.01,168.50 208.47,168.54 208.80,168.94 209.50,168.84 210.01,168.90 210.16,169.38 209.89,170.32 210.36,170.43 210.08,171.39 210.88,171.13 210.74,171.92 210.81,172.70 211.80,172.08 212.28,172.05 212.71,172.07 213.16,171.98 213.29,173.00 213.84,172.61 214.43,172.04 214.32,173.85 214.96,173.15 215.26,173.58 215.73,173.47 216.01,173.97 216.30,174.43 217.03,173.40 217.37,173.70 217.48,174.78 218.08,174.22 218.59,173.95 218.69,175.34 219.20,175.03 219.66,174.92 220.21,174.06 220.68,173.69 220.87,174.94 221.47,173.81 221.77,174.42 222.19,174.31 222.74,173.48 223.23,172.99 223.38,174.49 223.68,175.13 224.15,174.76 224.46,175.33 225.05,174.21 225.22,175.61 225.70,175.15 226.05,175.53 226.56,174.98 226.99,174.91 227.32,175.62 227.73,175.72 228.05,176.45 228.58,175.73 229.07,175.28 229.44,175.71 229.85,175.82 230.29,175.68 230.80,175.12 231.12,175.82 231.57,175.71 232.05,175.30 232.45,175.48 232.82,175.84 233.18,176.50 233.60,176.45 234.03,175.94 234.43,176.75 234.86,175.80 235.27,175.85 235.67,176.46 236.08,176.53 236.50,176.10 236.90,176.99 237.34,175.42 237.74,176.35 238.14,177.00 238.55,177.10 238.99,175.31 239.39,176.78 239.80,176.17 240.27,177.05 240.61,175.83 241.09,176.50 241.51,176.38 241.98,177.05 242.28,175.43 242.72,175.66 243.13,174.91 243.60,175.82 244.07,174.53 244.44,176.05 244.96,174.61 245.34,175.11 245.66,176.60 246.12,175.95 246.49,176.63 246.95,176.10 247.35,176.33 247.73,176.92 248.07,178.11 248.61,176.34 248.93,177.80 249.36,177.66 249.81,177.25 250.28,176.46 250.60,177.23 250.96,177.41 251.45,176.84 251.99,176.18 252.20,177.19 252.47,177.91 253.00,177.29 253.58,176.46 253.97,176.54 254.20,177.47 254.83,176.33 255.28,176.11 255.55,176.82 256.03,176.47 256.38,176.80 256.93,176.06 257.09,177.35 257.44,177.56 257.83,176.79 258.18,177.51 258.55,177.47 259.04,178.02 259.43,177.86 259.86,178.05 260.26,177.95 260.71,178.26 260.90,176.76 261.31,176.73 261.93,178.20 262.23,177.95 262.63,176.52 262.90,178.09 263.42,177.41 263.75,177.84 264.22,177.68 264.75,177.28 265.30,176.75 265.51,177.76 265.90,177.91 266.46,177.36 266.89,177.37 267.27,177.60 267.38,179.04 268.06,177.94 268.57,177.61 268.58,179.48 268.97,179.81 269.72,178.07 270.09,178.35 270.41,179.12 270.90,178.50 271.30,178.76 271.67,179.21 272.21,178.16 272.56,178.78 273.07,178.06 273.45,178.44 273.80,179.03 274.25,178.82 274.53,180.05 275.11,178.68 275.36,180.27 275.89,179.32 276.29,179.44 276.69,178.86 277.07,178.83 277.63,180.11 277.91,179.02 278.47,180.02 278.91,180.07 279.26,179.47 279.51,178.17 280.00,178.60 280.39,178.31 280.84,178.50 281.27,178.48 281.64,178.06 282.16,178.72 282.53,178.29" fill="none" stroke="#0a0aff" stroke-width="1.4" stroke-linejoin="round"/>
<rect x="24.4" y="9.05" width="258.9" height="207" fill="none" stroke="#1a1a1a" stroke-width="1.4"/>
<path d="M39.63,216 v3.6 M54.86,216 v2.2 M70.09,216 v3.6 M85.32,216 v2.2 M100.55,216 v3.6 M115.78,216 v2.2 M131.01,216 v3.6 M146.24,216 v2.2 M161.47,216 v3.6 M176.70,216 v2.2 M191.93,216 v3.6 M207.16,216 v2.2 M222.39,216 v3.6 M237.62,216 v2.2 M252.85,216 v3.6 M268.08,216 v2.2 M283.31,216 v3.6" stroke="#1a1a1a" stroke-width="1.2"/>
<text x="39.63" y="231.3" text-anchor="middle" style="font-family:'Liberation Sans',sans-serif;font-weight:bold;stroke:#000;stroke-width:0.25px;font-size:11.2px">10</text>
<text x="70.09" y="231.3" text-anchor="middle" style="font-family:'Liberation Sans',sans-serif;font-weight:bold;stroke:#000;stroke-width:0.25px;font-size:11.2px">20</text>
<text x="100.55" y="231.3" text-anchor="middle" style="font-family:'Liberation Sans',sans-serif;font-weight:bold;stroke:#000;stroke-width:0.25px;font-size:11.2px">30</text>
<text x="131.01" y="231.3" text-anchor="middle" style="font-family:'Liberation Sans',sans-serif;font-weight:bold;stroke:#000;stroke-width:0.25px;font-size:11.2px">40</text>
<text x="161.47" y="231.3" text-anchor="middle" style="font-family:'Liberation Sans',sans-serif;font-weight:bold;stroke:#000;stroke-width:0.25px;font-size:11.2px">50</text>
<text x="191.93" y="231.3" text-anchor="middle" style="font-family:'Liberation Sans',sans-serif;font-weight:bold;stroke:#000;stroke-width:0.25px;font-size:11.2px">60</text>
<text x="222.39" y="231.3" text-anchor="middle" style="font-family:'Liberation Sans',sans-serif;font-weight:bold;stroke:#000;stroke-width:0.25px;font-size:11.2px">70</text>
<text x="252.85" y="231.3" text-anchor="middle" style="font-family:'Liberation Sans',sans-serif;font-weight:bold;stroke:#000;stroke-width:0.25px;font-size:11.2px">80</text>
<text x="283.31" y="231.3" text-anchor="middle" style="font-family:'Liberation Sans',sans-serif;font-weight:bold;stroke:#000;stroke-width:0.25px;font-size:11.2px">90</text>
<text x="117.76" y="246.8" style="font-family:'Liberation Sans',sans-serif;font-weight:bold;stroke:#000;stroke-width:0.25px;font-size:11.4px">2<tspan style="font-weight:normal">&#952;</tspan><tspan dx="-1.1"> (degrees)</tspan></text>
<text transform="translate(12.2,182.31) rotate(-90)" style="font-family:'Liberation Sans',sans-serif;font-weight:bold;stroke:#000;stroke-width:0.25px;font-size:14.4px">Intensity (A. U.)</text>
<text x="260.75" y="27.4" style="font-family:'Liberation Sans',sans-serif;font-weight:bold;stroke:#000;stroke-width:0.25px;font-size:15.1px">(a)</text>
<line x1="155.4" y1="59.1" x2="181" y2="59.1" stroke="#0a0aff" stroke-width="1.3"/>
<line x1="153.6" y1="73.8" x2="179.7" y2="73.8" stroke="#333" stroke-width="1.5"/>
<line x1="152.8" y1="90.8" x2="179.4" y2="90.8" stroke="#ff1414" stroke-width="1.3"/>
<line x1="152" y1="107.8" x2="177.8" y2="107.8" stroke="#1a931a" stroke-width="1.5" stroke-dasharray="1.2 0.9"/>
<text x="184.46" y="63.2" style="font-family:'Liberation Sans',sans-serif;font-weight:bold;stroke:#000;stroke-width:0.25px;font-size:11.3px">SnO<tspan dy="4.8" style="font-size:7px">2</tspan><tspan dy="-4.8" dx="0">- RGO film</tspan></text>
<text x="183.02" y="78" style="font-family:'Liberation Sans',sans-serif;font-weight:bold;stroke:#000;stroke-width:0.25px;font-size:11.2px">RGO film</text>
<text x="182.00" y="94.6" style="font-family:'Liberation Sans',sans-serif;font-weight:bold;stroke:#000;stroke-width:0.25px;font-size:11.5px">RGO</text>
<text x="182.05" y="112" style="font-family:'Liberation Sans',sans-serif;font-weight:bold;stroke:#000;stroke-width:0.25px;font-size:11.2px">GO</text>
<text transform="translate(103.40,74.50) rotate(-90)" text-anchor="middle" style="font-family:'Liberation Sans',sans-serif;font-weight:bold;stroke:#000;stroke-width:0.25px;font-size:9.7px">(110)</text>
<text transform="translate(125.30,110.20) rotate(-90)" text-anchor="middle" style="font-family:'Liberation Sans',sans-serif;font-weight:bold;stroke:#000;stroke-width:0.25px;font-size:9.7px">(101)</text>
<text transform="translate(136.10,135.50) rotate(-90)" text-anchor="middle" style="font-family:'Liberation Sans',sans-serif;font-weight:bold;stroke:#000;stroke-width:0.25px;font-size:9.7px">(200)</text>
<text transform="translate(176.30,140.50) rotate(-90)" text-anchor="middle" style="font-family:'Liberation Sans',sans-serif;font-weight:bold;stroke:#000;stroke-width:0.25px;font-size:9.7px">(211)</text>
<text transform="translate(185.20,146.20) rotate(-90)" text-anchor="middle" style="font-family:'Liberation Sans',sans-serif;font-weight:bold;stroke:#000;stroke-width:0.25px;font-size:9.7px">(220)</text>
<text transform="translate(205.50,150.70) rotate(-90)" text-anchor="middle" style="font-family:'Liberation Sans',sans-serif;font-weight:bold;stroke:#000;stroke-width:0.25px;font-size:9.7px">(310)</text>
<text transform="translate(216.20,148.70) rotate(-90)" text-anchor="middle" style="font-family:'Liberation Sans',sans-serif;font-weight:bold;stroke:#000;stroke-width:0.25px;font-size:9.7px">(301)</text>
<text transform="translate(251.30,156.50) rotate(-90)" text-anchor="middle" style="font-family:'Liberation Sans',sans-serif;font-weight:bold;stroke:#000;stroke-width:0.25px;font-size:9.7px">(321)</text>
<line x1="357.5" y1="34.06" x2="357.5" y2="211" stroke="#333" stroke-width="1.2" stroke-dasharray="4.48 3.98" stroke-dashoffset="0"/>
<line x1="365.9" y1="34.06" x2="365.9" y2="211" stroke="#333" stroke-width="1.2" stroke-dasharray="4.48 3.98" stroke-dashoffset="0"/>
<line x1="371.9" y1="34.06" x2="371.9" y2="211" stroke="#333" stroke-width="1.2" stroke-dasharray="4.48 3.98" stroke-dashoffset="0"/>
<line x1="384.5" y1="34.06" x2="384.5" y2="211" stroke="#333" stroke-width="1.2" stroke-dasharray="4.48 3.98" stroke-dashoffset="0"/>
<line x1="413.7" y1="15.38" x2="413.7" y2="200.5" stroke="#333" stroke-width="1.2" stroke-dasharray="4.28 3.80" stroke-dashoffset="0"/>
<line x1="437.5" y1="36.6" x2="437.5" y2="211" stroke="#333" stroke-width="1.2" stroke-dasharray="4.53 4.01" stroke-dashoffset="0"/>
<line x1="460.6" y1="36" x2="460.6" y2="211" stroke="#333" stroke-width="1.2" stroke-dasharray="4.52 4.01" stroke-dashoffset="1.07"/>
<line x1="563.1" y1="37.07" x2="563.1" y2="212.5" stroke="#333" stroke-width="1.2" stroke-dasharray="4.34 3.84" stroke-dashoffset="0"/>
<polyline points="341.60,214.58 341.90,214.61 342.29,214.76 342.70,214.51 343.19,214.49 343.72,214.50 344.27,214.26 344.88,214.38 345.49,214.40 346.12,214.43 346.72,214.04 347.34,214.10 347.93,213.95 348.53,214.27 349.06,214.17 349.54,213.81 350.02,214.24 350.67,214.18 351.26,213.99 351.83,213.93 352.35,213.67 352.85,213.56 353.34,213.78 353.76,213.50 354.19,213.51 354.58,213.47 354.91,213.28 355.66,213.21 356.19,212.82 356.75,212.60 357.08,212.15 357.50,212.07 358.00,212.14 358.40,212.59 358.92,212.92 359.54,213.10 359.89,213.49 360.41,213.50 360.93,213.39 361.47,213.28 361.98,213.02 362.50,212.92 362.99,212.90 363.51,212.72 364.09,212.98 364.59,212.71 365.12,212.85 365.56,212.57 365.98,212.83 366.55,212.84 367.14,212.57 367.58,212.82 367.99,213.20 368.55,213.00 369.18,213.12 369.46,212.27 369.43,211.91 369.80,211.74 369.98,211.46 369.83,211.04 369.84,210.63 370.06,210.17 370.46,209.63 370.45,208.90 370.22,208.01 370.37,206.99 370.33,206.64 370.33,206.28 370.73,205.92 370.44,205.50 370.66,205.08 370.63,204.64 370.52,204.17 370.82,203.71 370.54,203.21 370.82,202.72 370.59,202.19 370.76,201.67 370.68,201.13 370.73,200.59 371.11,200.06 371.05,199.50 370.82,198.93 371.13,198.38 370.82,197.81 370.93,197.25 371.19,196.69 371.10,196.13 370.86,195.56 371.32,195.02 370.96,194.46 371.00,193.92 371.28,193.40 371.08,192.87 371.09,192.35 371.00,191.85 371.03,191.36 371.30,190.90 371.15,190.43 371.35,190.00 371.27,189.37 371.34,188.73 371.62,188.08 371.41,187.39 371.49,186.71 371.66,186.03 371.35,185.32 371.36,184.63 371.77,183.97 371.75,183.30 371.50,182.64 371.50,182.01 371.80,181.42 371.93,180.85 371.58,180.30 371.99,179.82 371.98,179.36 371.87,178.94 371.81,178.57 371.68,178.25 371.68,178.00 372.16,177.90 371.85,177.69 372.00,177.80 372.14,177.69 371.91,177.88 372.05,178.04 372.23,178.26 372.32,178.56 372.08,178.94 372.44,179.33 372.39,179.79 372.26,180.31 372.15,180.85 372.30,181.42 372.50,182.01 372.22,182.66 372.61,183.29 372.74,183.95 372.64,184.63 372.59,185.33 372.82,186.01 372.79,186.70 372.73,187.39 372.66,188.07 372.92,188.72 372.84,189.37 372.60,190.01 372.58,190.45 372.77,190.90 372.77,191.37 372.85,191.86 373.10,192.35 373.17,192.86 373.20,193.38 372.78,193.93 372.91,194.46 372.80,195.02 373.29,195.55 373.01,196.12 373.11,196.68 373.00,197.24 373.23,197.80 372.92,198.37 373.40,198.92 373.19,199.48 373.11,200.04 373.06,200.59 373.16,201.13 373.20,201.66 373.18,202.19 373.14,202.71 373.45,203.20 373.31,203.70 373.22,204.18 373.26,204.64 373.51,205.07 373.35,205.51 373.34,205.92 373.51,206.29 373.51,206.66 373.66,207.00 373.64,207.95 373.70,208.77 374.03,209.44 373.82,210.06 373.72,210.59 373.85,211.01 374.01,211.37 374.27,211.64 374.22,211.99 374.42,212.24 374.62,212.48 374.99,213.17 375.67,212.98 376.24,213.30 377.01,212.97 377.43,213.31 377.94,213.31 378.49,213.23 379.03,213.51 379.59,213.44 380.12,213.51 380.61,213.65 380.98,213.28 381.54,213.06 382.02,213.05 382.51,212.89 382.67,212.22 382.83,211.85 383.34,211.51 383.38,210.94 383.42,210.34 383.78,209.80 383.64,209.13 383.94,208.58 383.85,207.97 384.10,207.40 384.41,206.75 384.59,206.05 384.70,205.35 384.58,204.67 384.79,204.18 384.80,203.78 385.00,203.52 385.12,203.83 385.08,204.22 385.19,204.72 385.38,205.33 385.38,206.05 385.84,206.70 386.02,207.37 386.02,207.99 386.25,208.53 386.41,209.12 386.45,209.74 386.48,210.36 386.70,210.91 386.96,211.41 386.92,211.99 387.10,212.43 387.65,212.73 388.04,212.86 388.40,213.00 388.93,213.54 390.03,213.27 390.31,213.64 390.66,213.61 391.02,213.51 391.36,213.78 391.77,213.42 392.16,213.50 392.56,213.68 393.00,213.49 393.44,213.91 393.92,213.63 394.42,213.60 394.94,213.57 395.47,213.87 396.04,213.79 396.62,213.90 397.24,213.92 397.89,214.01 398.56,214.10 399.26,213.98 400.00,213.75 400.38,213.90 400.78,213.75 401.18,213.68 401.60,213.92 402.02,214.04 402.46,213.78 402.91,213.84 403.36,213.88 403.82,214.06 404.30,213.98 404.78,214.03 405.26,214.11 405.76,213.93 406.26,214.14 406.77,214.20 407.28,213.80 407.80,214.23 408.32,214.13 408.85,213.83 409.38,214.00 409.91,214.09 410.44,214.24 410.98,213.98 411.52,214.08 412.06,214.24 412.60,214.20 413.14,214.28 413.69,214.04 414.23,214.14 414.77,213.92 415.30,214.18 415.84,214.24 416.37,214.15 416.90,214.19 417.43,213.94 417.95,214.29 418.47,214.33 418.99,214.33 419.50,214.12 420.00,214.25 420.50,214.01 421.01,214.31 421.53,214.29 422.05,214.04 422.57,213.91 423.10,214.09 423.63,214.14 424.16,214.26 424.70,214.12 425.24,213.89 425.77,214.29 426.32,213.92 426.86,214.29 427.40,213.98 427.94,214.06 428.48,214.29 429.02,213.97 429.56,213.97 430.09,214.16 430.62,214.26 431.15,214.32 431.68,214.25 432.20,214.38 432.72,214.15 433.23,214.38 433.74,213.95 434.24,214.01 434.74,214.16 435.22,214.04 435.70,214.26 436.18,214.21 436.64,214.15 437.10,214.31 437.54,214.16 437.98,214.04 438.40,214.07 438.82,214.29 439.23,214.31 439.62,213.96 440.00,214.28 440.74,214.32 441.44,214.08 442.11,214.08 442.75,213.87 443.37,214.01 443.96,213.96 444.52,213.98 445.04,213.66 445.59,214.09 446.06,213.83 446.53,213.74 447.00,213.90 447.42,213.75 447.83,213.68 448.23,213.75 448.59,213.40 448.98,213.60 449.32,213.51 449.69,213.75 450.02,213.71 450.87,213.30 451.44,213.31 451.78,213.05 452.11,213.13 452.48,213.27 453.00,213.30 453.39,213.10 453.77,213.05 454.15,213.03 454.51,213.29 454.91,213.50 455.42,213.17 455.91,213.56 456.54,213.25 457.22,213.39 458.01,213.46 458.35,213.71 458.70,213.55 459.05,213.59 459.38,213.74 459.75,213.51 460.08,213.84 460.46,213.56 460.81,213.77 461.20,213.66 461.60,213.66 462.00,213.84 462.44,213.82 462.89,213.81 463.37,213.85 463.87,213.93 464.41,213.76 464.98,213.81 465.57,214.04 466.20,214.07 466.88,214.03 467.59,214.21 468.35,214.11 469.15,214.26 470.00,213.97 470.35,214.23 470.72,214.27 471.10,214.33 471.50,214.04 471.90,214.05 472.31,214.36 472.74,214.02 473.17,214.42 473.62,214.37 474.08,214.00 474.54,214.06 475.01,214.32 475.49,214.09 475.98,214.02 476.47,214.40 476.97,214.20 477.48,214.39 478.00,214.07 478.51,214.22 479.04,214.37 479.57,214.04 480.10,214.14 480.64,214.39 481.18,214.52 481.73,214.55 482.28,214.14 482.83,214.34 483.38,214.47 483.94,214.36 484.50,214.46 485.06,214.22 485.62,214.17 486.18,214.19 486.74,214.17 487.30,214.43 487.86,214.42 488.41,214.46 488.97,214.25 489.53,214.28 490.08,214.30 490.62,214.63 491.16,214.71 491.71,214.69 492.25,214.28 492.78,214.27 493.31,214.72 493.83,214.49 494.35,214.65 494.87,214.43 495.37,214.51 495.87,214.54 496.36,214.51 496.85,214.60 497.33,214.31 497.79,214.67 498.25,214.74 498.71,214.42 499.15,214.56 499.58,214.71 500.00,214.55 500.62,214.46 501.20,214.45 501.77,214.63 502.32,214.39 502.84,214.84 503.35,214.80 503.84,214.76 504.32,214.85 504.78,214.74 505.24,214.64 505.67,214.74 506.10,214.70 506.52,214.95 506.94,214.86 507.36,214.60 507.76,214.93 508.16,214.85 508.56,214.88 508.97,214.90 509.38,214.70 509.78,214.95 510.19,214.95 510.61,214.87 511.04,214.91 511.47,214.91 511.92,214.74 512.37,214.91 512.85,214.59 513.33,214.73 513.83,214.80 514.35,214.58 514.88,214.76 515.43,214.91 516.01,214.91 516.61,214.72 517.23,215.09 517.88,214.95 518.56,214.80 519.26,214.97 520.00,214.93 520.38,214.92 520.77,214.85 521.16,215.16 521.56,214.99 521.97,215.03 522.38,215.06 522.81,215.18 523.24,214.70 523.67,215.00 524.11,215.07 524.56,214.83 525.02,214.91 525.48,214.74 525.94,214.82 526.41,214.91 526.89,214.78 527.37,214.86 527.85,215.20 528.35,215.02 528.84,215.01 529.34,215.24 529.84,215.05 530.35,215.27 530.86,215.09 531.38,215.19 531.90,214.83 532.42,215.09 532.94,215.18 533.47,214.83 534.00,215.27 534.54,214.90 535.07,215.06 535.61,214.91 536.15,215.08 536.69,215.14 537.23,214.87 537.77,215.32 538.32,215.07 538.86,215.13 539.41,215.17 539.96,215.06 540.51,215.02 541.06,215.21 541.61,215.17 542.16,215.04 542.70,215.26 543.26,215.06 543.81,214.93 544.35,215.05 544.90,214.95 545.45,215.02 545.99,215.32 546.53,215.15 547.07,215.41 547.61,215.34 548.15,215.00 548.68,215.47 549.21,215.46 549.75,215.03 550.27,215.45 550.80,215.22 551.32,215.25 551.84,215.51 552.36,215.15 552.87,215.30 553.38,215.51 553.88,215.41 554.38,215.29 554.88,215.55 555.37,215.48 555.86,215.38 556.34,215.14 556.82,215.41 557.29,215.33 557.76,215.21 558.22,215.14 558.67,215.39 559.12,215.20 559.56,215.36 560.00,215.48 560.60,215.39 561.20,215.30 561.80,215.48 562.41,215.41 563.01,215.60 563.62,215.49 564.23,215.74 564.83,215.73 565.45,215.63 566.06,215.40 566.67,215.35 567.27,215.76 567.87,215.72 568.48,215.65 569.09,215.54 569.69,215.51 570.28,215.73 570.88,215.69 571.48,215.71 572.07,215.75 572.65,215.83 573.24,215.56 573.82,215.61 574.39,215.99 574.96,215.97 575.53,215.97 576.10,215.57 576.66,215.60 577.20,215.72 577.75,215.81 578.28,215.93 578.82,215.68 579.34,215.92 579.86,215.70 580.37,215.72 580.87,216.03 581.36,215.98 581.85,216.04 582.33,215.92 582.80,215.99 583.26,215.87 583.71,215.95 584.15,216.16 584.57,216.23 585.01,215.86 585.42,215.89 585.80,216.25 586.20,216.17 586.57,216.25 586.94,215.98 587.29,216.10 587.64,216.03 587.96,216.31 588.28,216.10 588.57,216.25 588.86,216.43 589.14,216.11 589.40,216.22" fill="none" stroke="#333" stroke-width="1.15" stroke-linejoin="round"/>
<polyline points="341.74,123.46 342.01,123.34 342.15,122.87 342.40,122.48 342.67,122.02 343.43,122.34 343.80,121.91 344.43,121.89 344.75,121.27 345.46,121.34 345.75,120.63 346.51,120.84 346.99,120.53 347.37,120.02 347.88,119.94 348.41,119.89 348.73,119.25 349.35,119.41 349.94,119.48 350.28,118.79 350.96,119.14 351.44,118.86 352.01,118.85 352.38,118.20 352.83,117.81 353.57,118.32 354.08,118.16 354.48,117.65 354.89,117.15 355.45,117.08 356.11,117.34 356.55,116.85 357.28,117.32 357.72,116.82 358.15,116.29 358.81,116.56 359.24,116.12 359.92,116.50 360.41,116.31 360.74,115.77 361.24,115.71 361.69,115.58 362.30,115.38 362.90,115.18 362.78,114.07 363.41,113.97 363.96,113.79 364.15,113.22 364.70,113.15 364.83,112.48 365.51,113.04 365.80,112.63 366.30,112.24 366.61,112.89 367.16,112.76 367.65,112.92 367.91,113.47 368.55,113.53 368.96,113.94 369.06,114.84 369.69,115.06 370.44,114.74 370.37,115.62 371.20,115.28 371.41,115.83 371.48,116.59 372.06,116.68 372.67,116.74 373.06,117.11 373.49,117.43 374.08,117.51 374.06,118.54 375.00,118.01 375.27,118.59 375.59,119.12 376.22,119.03 376.49,119.78 377.28,119.30 377.55,120.18 378.12,120.28 378.73,120.24 379.21,120.62 379.88,120.36 380.30,120.89 380.83,121.00 381.41,120.88 381.91,120.99 382.30,121.35 382.83,121.21 383.56,121.12 383.92,121.94 384.62,121.67 385.05,122.05 385.44,122.49 386.12,122.08 386.65,122.10 387.11,122.37 387.47,122.98 388.03,122.94 388.57,123.02 389.02,123.39 389.38,124.03 390.12,123.59 390.57,123.92 390.90,124.53 391.45,124.44 391.98,124.26 392.31,124.58 392.94,124.77 393.52,124.59 393.88,124.91 394.31,124.89 394.80,125.40 395.25,124.90 395.74,125.17 396.27,125.38 396.77,125.23 397.28,124.58 398.01,124.70 398.38,124.38 398.83,124.43 399.30,124.49 399.81,124.78 400.32,124.90 400.81,124.23 401.32,123.91 401.89,124.31 402.38,123.86 402.89,123.76 403.55,124.39 403.90,123.62 404.53,124.07 404.90,123.57 405.59,123.93 406.06,123.65 406.24,122.71 406.77,122.62 407.58,123.07 407.91,122.54 408.29,122.13 408.90,122.22 409.35,122.01 409.61,121.51 409.98,121.27 410.29,120.64 410.92,120.48 411.22,119.93 411.97,119.89 412.35,119.50 412.45,118.80 413.09,118.93 413.26,118.27 413.74,118.21 414.01,118.83 414.43,118.93 414.35,119.56 414.83,119.87 415.04,120.45 415.85,120.73 415.62,121.68 416.49,121.63 416.29,122.30 416.30,122.88 416.58,123.31 416.87,123.76 417.53,123.99 417.62,124.58 417.85,125.10 418.70,125.17 418.38,126.09 418.75,126.49 419.44,126.56 419.58,127.18 420.20,127.31 420.70,127.53 420.82,128.20 421.63,128.01 421.62,128.92 421.97,129.37 422.81,129.09 422.96,129.93 423.87,129.46 424.04,130.42 424.72,130.11 424.90,130.93 425.58,130.63 425.89,131.28 426.69,130.62 427.17,130.84 427.46,131.71 428.04,131.70 428.59,131.77 429.26,131.44 429.75,131.73 430.21,132.07 430.82,131.92 431.06,132.97 431.62,132.90 432.06,133.22 432.62,133.12 433.20,132.91 433.74,132.78 434.06,133.54 434.70,133.07 435.08,133.61 435.60,133.65 436.10,133.81 436.72,133.52 437.26,133.64 437.72,134.20 438.40,133.84 438.74,134.42 439.26,134.14 439.70,134.36 440.19,134.33 440.59,134.83 441.12,134.75 441.64,134.68 442.14,134.77 442.58,135.20 443.03,135.63 443.63,135.24 444.19,135.08 444.68,135.32 445.20,135.33 445.66,135.74 446.14,136.04 446.68,135.91 447.25,135.61 447.73,135.83 448.21,135.96 448.69,136.09 449.19,136.12 449.58,136.79 450.13,136.41 450.59,136.59 451.06,136.71 451.56,136.70 452.02,136.93 452.56,136.56 453.01,136.92 453.47,137.28 454.07,136.55 454.52,137.07 455.06,136.90 455.63,136.65 456.16,136.70 456.61,137.48 457.25,136.92 457.64,137.57 458.20,137.03 458.64,137.36 459.18,137.10 459.61,137.67 460.08,137.98 460.66,137.50 461.13,137.90 461.59,138.33 462.20,137.78 462.70,138.02 463.19,138.35 463.70,138.56 464.32,137.94 464.78,138.50 465.39,138.03 465.92,138.10 466.33,139.03 466.98,138.18 467.39,139.11 467.93,139.01 468.46,139.01 468.97,139.13 469.49,139.12 470.06,138.82 470.55,139.04 471.10,138.87 471.54,139.58 472.06,139.57 472.58,139.64 473.17,139.13 473.64,139.57 474.20,139.29 474.66,139.89 475.18,139.91 475.66,140.22 476.22,140.00 476.73,140.04 477.23,140.19 477.83,139.58 478.28,140.14 478.86,139.65 479.32,140.05 479.86,139.88 480.24,140.77 480.87,139.93 481.25,140.89 481.76,141.00 482.34,140.58 482.78,141.05 483.41,140.36 483.90,140.53 484.42,140.49 484.90,140.64 485.40,140.66 485.75,141.56 486.37,140.92 486.77,141.50 487.32,141.28 487.84,141.23 488.28,141.60 488.82,141.46 489.18,142.33 489.78,141.83 490.25,142.13 490.76,142.19 491.26,142.34 491.80,142.28 492.33,142.16 492.86,142.11 493.24,142.93 493.85,142.33 494.32,142.66 494.77,143.10 495.32,142.96 495.77,143.41 496.31,143.35 496.87,143.14 497.45,142.84 497.89,143.39 498.43,143.35 498.89,143.82 499.46,143.58 499.95,143.82 500.45,144.02 501.02,143.76 501.48,144.21 501.99,144.35 502.62,143.70 503.02,144.53 503.54,144.57 504.06,144.63 504.65,144.20 505.18,144.20 505.71,144.16 506.18,144.47 506.62,145.03 507.21,144.62 507.78,144.35 508.25,144.72 508.79,144.58 509.22,145.19 509.72,145.42 510.21,145.65 510.84,144.90 511.31,145.27 511.86,145.09 512.26,145.95 512.78,145.95 513.34,145.71 513.79,146.22 514.37,145.87 514.85,146.20 515.40,145.99 515.93,145.94 516.36,146.64 516.89,146.56 517.44,146.38 517.92,146.73 518.46,146.58 518.95,146.80 519.56,146.15 520.07,146.28 520.58,146.33 521.03,146.89 521.53,147.07 522.12,146.58 522.58,147.00 523.15,146.69 523.58,147.33 524.08,147.49 524.70,146.88 525.08,147.84 525.64,147.61 526.23,147.16 526.71,147.47 527.26,147.36 527.65,148.01 528.11,148.28 528.73,147.65 529.22,147.75 529.62,148.28 530.06,148.60 530.56,148.59 531.10,148.41 531.66,148.17 532.04,148.77 532.56,148.72 532.97,149.16 533.51,149.04 533.96,149.30 534.41,149.63 534.97,149.39 535.40,149.77 536.02,149.25 536.57,149.07 536.91,150.03 537.56,149.28 537.90,150.32 538.50,149.88 539.07,149.57 539.53,149.85 539.96,150.37 540.51,150.10 540.99,150.41 541.57,149.96 541.99,150.75 542.57,150.35 543.03,150.87 543.63,150.25 544.10,150.83 544.64,150.69 545.17,150.68 545.74,150.36 546.21,150.92 546.70,151.28 547.30,150.61 547.78,151.00 548.34,150.63 548.75,151.66 549.26,151.69 549.80,151.45 550.32,151.31 550.87,150.96 551.36,151.07 551.78,151.70 552.31,151.86 552.83,152.12 553.37,152.06 553.95,151.70 554.50,151.59 554.98,151.94 555.52,151.81 556.01,152.07 556.48,152.48 557.04,152.11 557.48,152.70 558.02,152.51 558.61,151.90 559.02,152.66 559.54,152.64 560.06,152.66 560.64,152.11 561.05,153.04 561.62,152.72 562.13,152.82 562.70,152.51 563.25,152.44 563.74,152.47 564.21,152.71 564.70,152.86 565.20,152.76 565.70,152.71 566.13,153.42 566.63,153.45 567.11,153.67 567.67,153.06 568.12,153.61 568.64,153.52 569.19,153.07 569.62,153.89 570.18,153.42 570.70,153.29 571.21,153.34 571.66,154.12 572.24,153.46 572.75,153.67 573.26,153.87 573.80,153.73 574.31,154.07 574.89,153.55 575.41,153.93 575.89,154.12 576.40,154.20 576.93,154.23 577.50,153.93 578.04,154.34 578.59,154.72 579.21,154.27 579.79,154.48 580.37,154.71 581.01,154.17 581.60,154.23 582.15,154.98 582.78,154.35 583.36,154.52 583.93,154.50 584.45,155.16 585.03,154.75 585.54,155.14 586.10,154.44 586.58,154.59 587.02,155.00 587.48,154.70 587.87,155.07 588.26,154.94 588.64,154.54 588.95,154.59 589.20,154.94" fill="none" stroke="#ff1414" stroke-width="1.4" stroke-linejoin="round"/>
<polyline points="341.61,171.12 341.92,170.96 342.28,171.47 342.75,170.92 343.23,171.41 343.78,171.26 344.36,170.97 344.95,171.43 345.56,170.96 346.18,171.34 346.77,170.94 347.35,170.89 347.86,171.16 348.41,171.46 348.75,170.67 349.27,170.65 349.87,170.92 350.47,171.10 350.89,170.60 351.36,170.28 352.04,170.70 352.32,169.66 353.04,170.31 353.42,169.63 353.91,169.36 354.42,169.23 354.98,169.31 355.60,169.71 356.02,168.99 356.63,169.29 357.18,169.25 357.67,168.90 358.24,168.98 358.69,168.42 359.21,168.34 359.74,168.40 360.30,168.79 360.73,168.47 361.15,168.29 361.62,168.48 362.25,168.22 362.78,167.92 363.42,168.25 363.87,168.02 364.24,167.46 364.75,167.72 365.25,167.66 365.74,168.07 366.17,168.02 366.73,167.74 366.91,168.56 367.70,167.98 368.03,168.48 368.33,169.03 369.09,168.75 369.42,169.32 370.13,169.18 370.38,170.00 370.89,170.34 371.39,170.35 371.70,170.82 372.37,170.50 372.68,171.06 373.19,171.18 373.67,171.37 374.20,171.47 374.54,172.04 375.00,172.34 375.67,172.11 376.10,172.48 376.80,172.10 377.07,172.88 377.58,172.99 377.96,173.47 378.53,173.45 379.17,173.06 379.67,173.27 380.13,173.64 380.76,173.10 381.21,173.61 381.77,173.40 382.30,173.42 382.82,173.44 383.22,174.21 383.82,173.66 384.29,173.86 384.75,174.09 385.12,174.66 385.84,174.02 386.29,174.52 386.80,174.76 387.24,175.22 387.78,175.31 388.27,175.51 388.94,175.09 389.38,175.37 389.86,175.47 390.15,176.11 390.55,176.31 391.22,175.67 391.84,175.93 392.35,176.23 392.81,176.47 393.14,176.91 393.55,177.18 394.08,176.96 394.58,176.70 395.01,177.06 395.43,176.91 395.93,176.95 396.55,177.13 396.93,176.67 397.35,176.29 397.90,176.14 398.43,175.95 398.69,175.14 399.57,175.66 399.97,175.35 400.47,175.23 400.93,174.94 401.25,174.34 401.75,174.12 402.13,173.61 402.86,173.85 403.11,173.09 403.60,172.85 404.15,172.73 404.59,172.44 405.12,172.36 405.46,171.85 405.91,171.54 406.45,171.42 406.88,171.12 407.45,171.09 407.71,170.54 408.60,170.99 408.88,170.50 409.01,169.83 409.46,169.62 409.90,169.39 410.30,169.02 410.49,168.44 411.42,168.43 411.89,168.03 411.80,167.24 412.14,166.79 412.16,166.10 412.53,165.70 413.05,165.53 413.39,165.19 414.10,165.49 414.44,164.73 414.98,164.57 415.42,165.55 415.98,165.22 416.59,164.95 417.09,165.44 417.70,165.04 418.11,165.68 418.52,166.30 419.12,166.39 419.75,166.43 420.42,166.19 420.91,166.42 421.38,166.29 421.85,166.87 422.33,166.48 422.90,166.42 422.95,165.73 423.18,165.23 424.02,165.02 424.60,164.47 424.73,164.06 424.94,163.65 425.20,163.24 425.40,162.77 425.23,162.05 425.76,161.72 425.90,161.15 425.89,160.50 426.18,160.00 426.68,159.62 426.94,159.12 427.59,158.86 428.09,158.53 427.93,157.82 428.62,157.64 428.94,157.23 429.20,156.77 428.98,156.01 429.14,155.50 429.43,155.06 429.67,154.60 429.95,154.16 430.58,153.90 431.08,153.56 431.27,153.04 431.18,152.39 431.55,151.99 431.88,151.55 431.40,150.80 432.12,150.49 432.53,150.05 432.57,149.48 432.71,148.95 432.61,148.34 432.48,147.73 433.22,147.39 432.95,146.74 433.55,146.38 433.88,145.94 433.50,145.27 433.69,144.74 434.40,144.39 434.38,143.77 434.05,143.03 434.21,142.47 434.43,141.94 435.33,141.68 435.42,141.15 434.99,140.43 435.80,140.23 436.12,139.89 435.98,139.40 435.87,138.92 436.49,138.24 436.58,137.47 437.01,137.08 437.59,137.97 437.90,137.72 438.30,137.79 438.37,138.38 439.14,138.60 439.17,139.58 439.35,139.88 440.07,140.06 440.18,140.52 440.29,141.03 440.49,141.53 440.31,142.17 440.78,142.64 440.78,143.25 441.22,143.73 440.65,144.53 441.35,144.92 441.44,145.49 441.52,146.05 441.43,146.66 442.11,146.97 441.92,147.71 442.57,148.04 442.83,148.57 443.13,149.08 443.86,149.32 443.80,150.03 444.32,150.35 444.76,150.69 444.39,151.56 445.17,151.57 445.18,152.09 445.24,152.56 445.91,153.00 446.50,153.13 446.83,153.45 447.24,153.57 447.66,153.88 448.33,153.32 448.89,153.81 449.48,153.46 450.07,153.38 450.62,153.78 451.01,153.44 451.49,153.33 452.11,153.17 452.79,152.69 452.69,152.06 453.08,151.82 453.26,151.36 453.54,150.94 453.98,150.57 454.06,149.97 454.42,149.51 454.66,148.97 455.36,148.68 455.42,148.05 455.84,147.63 456.16,147.17 455.78,146.40 456.30,146.02 456.88,145.64 457.01,145.05 456.57,144.24 456.76,143.69 457.26,143.26 457.11,142.60 457.46,142.16 457.49,141.62 458.22,141.40 458.49,141.06 458.75,140.78 458.56,139.53 459.38,139.19 459.66,138.89 460.14,138.67 459.84,139.45 459.86,139.67 460.68,139.67 460.14,140.30 460.81,140.51 460.87,140.99 460.54,141.63 460.83,142.12 461.63,142.53 461.52,143.21 461.59,143.89 461.91,144.54 462.20,145.24 462.15,145.65 461.83,146.13 462.59,146.44 462.14,146.98 462.33,147.42 462.82,147.84 462.58,148.39 462.37,148.94 462.55,149.45 463.07,149.92 462.23,150.58 462.50,151.10 462.40,151.67 463.33,152.10 463.24,152.68 463.54,153.20 462.88,153.84 463.46,154.32 463.67,154.83 463.45,155.40 463.04,155.98 463.20,156.48 463.83,156.89 464.01,157.35 463.32,157.92 463.73,158.31 463.70,158.91 464.39,159.39 464.51,159.94 463.97,160.59 464.32,161.08 464.75,161.54 463.98,162.20 464.37,162.65 464.29,163.18 465.08,163.54 464.40,164.15 465.26,164.48 464.57,165.09 465.06,165.47 465.26,165.90 465.15,166.39 464.88,166.92 465.62,167.21 465.86,167.61 465.62,168.29 466.04,168.79 466.31,169.32 466.40,169.87 466.66,170.38 466.67,170.94 466.72,171.48 466.88,171.98 466.62,172.61 467.23,172.93 467.22,173.47 467.70,173.80 467.74,174.31 468.23,174.59 468.29,175.21 468.77,175.60 468.44,176.45 468.89,176.83 469.50,177.07 469.58,177.67 469.55,178.37 470.52,178.24 470.34,179.10 470.98,179.20 471.30,179.60 471.51,180.22 472.22,180.21 472.61,180.61 472.99,181.06 473.34,181.59 474.13,181.29 474.39,181.97 474.94,182.10 475.46,182.28 476.04,182.32 476.52,182.50 477.07,182.47 477.41,182.74 477.81,182.89 477.90,183.69 478.53,183.44 479.02,183.55 479.58,183.67 479.96,184.60 480.69,184.85 481.12,184.77 481.62,184.50 482.04,184.58 482.46,184.74 482.87,185.01 483.41,184.84 483.83,185.23 484.36,185.17 484.71,185.97 485.23,186.10 485.85,185.81 486.45,185.63 486.84,186.46 487.52,185.93 488.06,186.09 488.68,185.86 489.15,186.35 489.67,186.55 490.21,186.69 490.80,186.50 491.28,186.90 491.89,186.51 492.34,186.86 492.87,186.78 493.32,187.18 493.88,186.91 494.39,186.98 494.85,187.35 495.38,187.36 495.83,187.79 496.35,187.82 496.84,188.12 497.37,188.10 497.88,188.24 498.37,188.48 498.96,188.08 499.49,188.09 499.91,188.82 500.55,188.07 500.99,188.72 501.52,188.72 502.12,188.21 502.52,189.07 503.02,189.21 503.58,189.03 504.08,189.21 504.57,189.38 505.20,188.80 505.65,189.27 506.16,189.34 506.62,189.75 507.14,189.81 507.65,189.92 508.20,189.77 508.66,190.17 509.21,190.05 509.72,190.15 510.31,189.78 510.86,189.67 511.35,189.85 511.83,190.16 512.38,189.99 512.79,190.79 513.34,190.59 513.84,190.73 514.36,190.80 514.86,190.92 515.40,190.79 515.97,190.37 516.39,191.21 516.91,191.22 517.45,191.02 517.96,191.10 518.46,191.27 519.03,190.72 519.49,191.43 520.04,190.99 520.56,190.85 521.06,191.07 521.54,191.57 522.09,191.08 522.57,191.65 523.07,191.92 523.61,191.47 524.13,191.39 524.64,191.52 525.14,191.75 525.64,191.87 526.17,191.75 526.68,191.81 527.23,191.28 527.74,191.38 528.25,191.52 528.73,192.05 529.28,191.64 529.79,191.94 530.34,191.42 530.86,191.50 531.37,191.74 531.87,192.17 532.39,192.23 532.92,192.24 533.46,191.89 533.97,192.14 534.49,192.12 535.00,192.15 535.53,191.83 536.00,192.64 536.54,191.97 537.01,192.78 537.51,192.76 538.05,191.87 538.52,192.33 538.98,192.72 539.53,192.89 540.09,192.40 540.63,192.25 541.15,192.21 541.63,192.97 542.17,192.26 542.65,192.65 543.17,192.23 543.65,192.63 544.13,193.08 544.66,192.28 545.14,192.98 545.65,192.69 546.15,193.08 546.67,192.92 547.21,192.46 547.72,193.15 548.28,192.75 548.85,192.31 549.41,192.30 549.87,192.81 550.34,192.78 550.83,192.64 551.33,192.49 551.83,192.70 552.34,192.68 552.85,193.22 553.39,192.39 553.90,193.15 554.42,193.24 554.97,192.53 555.48,193.35 556.02,193.14 556.54,193.34 557.08,192.74 557.60,192.83 558.12,192.86 558.62,193.48 559.14,193.08 559.65,192.87 560.14,192.95 560.63,192.82 561.11,192.61 561.57,192.68 561.98,193.43 562.59,192.92 563.11,193.60 563.69,192.95 564.22,193.00 564.72,193.28 565.26,193.00 565.74,193.22 566.19,193.84 566.68,193.81 567.16,193.78 567.65,193.65 568.10,193.97 568.57,194.05 569.08,193.70 569.54,193.92 570.08,193.30 570.50,194.03 571.01,193.80 571.47,194.15 572.01,194.10 572.58,193.79 573.14,193.61 573.58,194.54 574.20,193.80 574.70,194.20 575.25,194.13 575.79,194.15 576.27,194.64 576.78,194.94 577.39,194.29 577.86,194.75 578.43,194.46 578.91,194.78 579.44,194.69 579.97,194.53 580.46,194.59 580.94,194.71 581.38,195.49 582.01,195.18 582.64,195.00 583.09,195.78 583.65,195.98 584.33,195.55 584.95,195.36 585.50,195.52 586.05,195.52 586.51,195.87 587.05,195.73 587.47,195.97 587.88,196.07 588.19,196.45 588.45,196.83 588.75,196.74" fill="none" stroke="#0a0aff" stroke-width="1.3" stroke-linejoin="round"/>
<polyline points="341.60,100.00 341.87,100.02 342.18,100.04 342.53,100.07 342.91,100.10 343.32,100.13 343.75,100.17 344.22,100.20 344.71,100.24 345.22,100.28 345.75,100.32 346.29,100.37 346.86,100.41 347.43,100.45 348.01,100.50 348.61,100.54 349.21,100.59 349.81,100.63 350.41,100.67 351.01,100.72 351.61,100.76 352.20,100.80 352.65,100.83 353.10,100.86 353.56,100.89 354.03,100.93 354.51,100.96 354.99,100.99 355.48,101.02 355.97,101.06 356.47,101.09 356.97,101.12 357.48,101.16 357.99,101.19 358.51,101.22 359.02,101.26 359.54,101.29 360.07,101.32 360.59,101.36 361.11,101.39 361.64,101.42 362.16,101.45 362.69,101.49 363.21,101.52 363.73,101.55 364.25,101.58 364.77,101.61 365.28,101.64 365.79,101.67 366.30,101.70 366.81,101.73 367.32,101.76 367.83,101.78 368.34,101.81 368.86,101.84 369.38,101.86 369.90,101.89 370.42,101.91 370.94,101.94 371.46,101.96 371.98,101.99 372.50,102.01 373.02,102.04 373.54,102.06 374.06,102.09 374.58,102.11 375.09,102.13 375.60,102.16 376.11,102.18 376.61,102.21 377.12,102.23 377.61,102.25 378.11,102.28 378.60,102.30 379.08,102.33 379.56,102.35 380.03,102.38 380.50,102.40 381.07,102.43 381.63,102.47 382.19,102.50 382.75,102.54 383.31,102.58 383.87,102.62 384.42,102.66 384.97,102.70 385.51,102.74 386.05,102.78 386.58,102.82 387.11,102.86 387.62,102.89 388.14,102.93 388.64,102.96 389.13,102.99 389.62,103.02 390.09,103.04 390.56,103.06 391.01,103.08 391.45,103.09 391.88,103.10 392.30,103.10 392.95,103.10 393.57,103.09 394.14,103.08 394.69,103.06 395.21,103.03 395.70,103.00 396.18,102.96 396.65,102.91 397.10,102.85 397.55,102.78 398.00,102.70 398.46,102.61 398.92,102.51 399.40,102.40 399.89,102.27 400.38,102.12 400.88,101.96 401.37,101.78 401.86,101.59 402.35,101.39 402.84,101.18 403.31,100.97 403.78,100.76 404.24,100.55 404.68,100.35 405.10,100.16 405.51,99.97 405.90,99.80 406.46,99.55 406.98,99.32 407.46,99.11 407.90,98.90 408.33,98.69 408.74,98.48 409.16,98.27 409.57,98.04 410.00,97.80 410.43,97.54 410.83,97.27 411.22,96.99 411.61,96.70 412.00,96.41 412.41,96.12 412.84,95.84 413.30,95.56 413.80,95.30 414.25,95.09 414.74,94.89 415.25,94.69 415.79,94.49 416.34,94.30 416.89,94.10 417.44,93.92 417.97,93.73 418.48,93.55 418.96,93.37 419.40,93.20 420.04,92.93 420.63,92.67 421.19,92.41 421.70,92.17 422.18,91.93 422.61,91.71 423.00,91.50 423.68,91.13 424.14,90.83 424.60,90.40 424.92,90.04 425.25,89.62 425.57,89.17 425.89,88.69 426.20,88.20 426.44,87.79 426.68,87.37 426.91,86.93 427.14,86.48 427.37,86.00 427.60,85.50 427.80,85.05 428.00,84.58 428.19,84.10 428.39,83.60 428.59,83.09 428.79,82.55 429.00,82.00 429.16,81.55 429.33,81.08 429.51,80.59 429.68,80.09 429.86,79.58 430.03,79.08 430.19,78.57 430.35,78.08 430.50,77.60 430.66,77.07 430.81,76.55 430.95,76.03 431.09,75.51 431.22,75.00 431.35,74.50 431.47,74.00 431.60,73.50 431.74,72.94 431.87,72.40 432.00,71.87 432.13,71.34 432.26,70.81 432.38,70.26 432.50,69.70 432.61,69.19 432.71,68.67 432.82,68.13 432.92,67.59 433.02,67.06 433.12,66.52 433.21,66.00 433.30,65.50 433.40,64.95 433.48,64.42 433.57,63.91 433.65,63.40 433.73,62.89 433.81,62.36 433.90,61.80 433.98,61.29 434.07,60.75 434.16,60.20 434.26,59.64 434.35,59.09 434.44,58.54 434.52,58.01 434.60,57.50 434.68,56.96 434.76,56.44 434.83,55.95 434.90,55.46 434.96,54.97 435.03,54.45 435.10,53.90 435.16,53.40 435.22,52.88 435.28,52.36 435.34,51.82 435.40,51.27 435.46,50.70 435.53,50.11 435.60,49.50 435.66,49.04 435.72,48.55 435.78,48.05 435.84,47.53 435.90,47.01 435.97,46.49 436.04,45.97 436.10,45.45 436.17,44.95 436.24,44.46 436.30,44.00 436.39,43.38 436.48,42.76 436.57,42.15 436.66,41.56 436.74,41.00 436.83,40.48 436.92,40.01 437.00,39.60 437.21,38.76 437.40,38.22 437.60,38.00 437.89,38.33 438.20,39.20 438.31,39.53 438.41,39.83 438.52,40.23 438.68,40.88 438.90,41.90 438.97,42.23 439.05,42.60 439.13,43.00 439.22,43.42 439.31,43.87 439.40,44.34 439.50,44.84 439.61,45.35 439.71,45.87 439.82,46.41 439.93,46.95 440.04,47.50 440.15,48.06 440.26,48.61 440.37,49.16 440.48,49.71 440.59,50.25 440.69,50.78 440.80,51.30 440.90,51.80 441.00,52.29 441.10,52.79 441.20,53.29 441.30,53.80 441.40,54.30 441.50,54.81 441.60,55.31 441.70,55.82 441.80,56.32 441.90,56.82 442.00,57.32 442.10,57.82 442.20,58.31 442.30,58.80 442.40,59.29 442.50,59.76 442.60,60.23 442.70,60.70 442.80,61.15 442.90,61.60 443.03,62.15 443.15,62.69 443.28,63.23 443.40,63.76 443.53,64.28 443.65,64.79 443.78,65.30 443.91,65.79 444.03,66.28 444.16,66.77 444.28,67.24 444.41,67.71 444.53,68.17 444.65,68.62 444.78,69.06 444.90,69.50 445.06,70.06 445.21,70.61 445.36,71.14 445.50,71.65 445.64,72.15 445.79,72.64 445.94,73.11 446.09,73.58 446.25,74.04 446.42,74.50 446.60,74.95 446.80,75.40 447.03,75.90 447.29,76.41 447.56,76.92 447.84,77.43 448.12,77.93 448.41,78.41 448.71,78.87 449.00,79.29 449.28,79.68 449.55,80.02 449.80,80.30 450.44,80.81 451.04,81.03 451.62,81.06 452.20,81.00 452.68,80.89 453.18,80.68 453.66,80.40 454.11,80.10 454.50,79.80 454.99,79.36 455.35,78.87 455.70,78.20 455.89,77.79 456.08,77.34 456.27,76.84 456.45,76.30 456.63,75.68 456.80,75.00 456.89,74.59 456.98,74.15 457.07,73.68 457.15,73.19 457.23,72.68 457.32,72.16 457.40,71.63 457.47,71.10 457.55,70.56 457.63,70.03 457.70,69.50 457.77,69.02 457.83,68.53 457.89,68.03 457.95,67.53 458.01,67.03 458.07,66.52 458.13,66.01 458.18,65.50 458.24,65.00 458.29,64.49 458.35,63.99 458.40,63.50 458.46,62.97 458.52,62.44 458.57,61.91 458.63,61.39 458.68,60.87 458.73,60.35 458.79,59.83 458.84,59.31 458.89,58.78 458.95,58.24 459.00,57.70 459.05,57.20 459.10,56.68 459.15,56.16 459.20,55.64 459.25,55.11 459.30,54.59 459.35,54.06 459.40,53.54 459.45,53.02 459.50,52.50 459.55,52.00 459.60,51.50 459.65,50.96 459.71,50.42 459.77,49.87 459.82,49.33 459.88,48.79 459.93,48.26 459.99,47.75 460.04,47.25 460.10,46.78 460.15,46.32 460.20,45.90 460.29,45.19 460.37,44.54 460.46,43.95 460.54,43.42 460.62,42.94 460.70,42.50 460.87,41.76 461.03,41.22 461.20,40.90 461.45,40.90 461.70,41.30 461.86,41.47 462.01,41.78 462.20,42.90 462.24,43.23 462.28,43.58 462.32,43.97 462.37,44.39 462.41,44.83 462.46,45.30 462.51,45.80 462.56,46.32 462.61,46.86 462.66,47.42 462.71,48.00 462.76,48.60 462.81,49.21 462.85,49.84 462.90,50.48 462.95,51.14 463.00,51.80 463.03,52.23 463.06,52.67 463.09,53.12 463.12,53.58 463.15,54.06 463.18,54.54 463.21,55.03 463.24,55.53 463.27,56.04 463.30,56.56 463.33,57.08 463.36,57.60 463.39,58.13 463.41,58.67 463.44,59.20 463.47,59.74 463.50,60.28 463.53,60.83 463.56,61.37 463.59,61.91 463.62,62.45 463.65,62.98 463.68,63.52 463.71,64.04 463.74,64.57 463.77,65.09 463.80,65.60 463.83,66.11 463.86,66.64 463.89,67.17 463.92,67.70 463.95,68.24 463.98,68.79 464.01,69.33 464.05,69.88 464.08,70.43 464.11,70.98 464.14,71.53 464.17,72.08 464.20,72.62 464.23,73.16 464.27,73.70 464.30,74.22 464.33,74.74 464.36,75.26 464.38,75.76 464.41,76.25 464.44,76.73 464.47,77.19 464.50,77.65 464.52,78.09 464.55,78.51 464.58,78.91 464.60,79.30 464.65,80.05 464.69,80.75 464.74,81.39 464.78,81.99 464.82,82.54 464.86,83.05 464.89,83.53 464.93,83.98 464.96,84.41 465.00,84.82 465.03,85.22 465.07,85.61 465.10,86.00 465.17,86.71 465.23,87.21 465.28,87.63 465.34,88.06 465.41,88.61 465.50,89.40 465.54,89.80 465.58,90.24 465.62,90.72 465.66,91.23 465.71,91.76 465.75,92.31 465.80,92.88 465.85,93.46 465.90,94.04 465.96,94.62 466.02,95.19 466.08,95.75 466.15,96.29 466.22,96.81 466.30,97.30 466.40,97.89 466.51,98.47 466.63,99.05 466.75,99.62 466.87,100.18 467.01,100.72 467.14,101.25 467.29,101.77 467.43,102.26 467.58,102.73 467.74,103.18 467.90,103.60 468.15,104.19 468.42,104.73 468.71,105.23 469.00,105.69 469.30,106.10 469.60,106.47 469.90,106.81 470.20,107.10 470.67,107.45 471.15,107.67 471.64,107.80 472.12,107.89 472.60,108.00 473.22,108.12 473.86,108.18 474.46,108.26 475.00,108.40 475.53,108.71 475.97,109.12 476.50,109.60 476.82,109.88 477.15,110.19 477.50,110.53 477.90,110.86 478.36,111.19 478.90,111.50 479.31,111.70 479.76,111.89 480.24,112.09 480.74,112.28 481.28,112.46 481.83,112.64 482.40,112.80 482.99,112.96 483.60,113.10 484.06,113.19 484.51,113.28 484.97,113.36 485.44,113.43 485.92,113.50 486.41,113.56 486.92,113.61 487.46,113.67 488.02,113.73 488.61,113.78 489.24,113.84 489.90,113.90 490.31,113.94 490.73,113.97 491.16,114.01 491.59,114.05 492.03,114.08 492.48,114.12 492.94,114.16 493.41,114.19 493.89,114.23 494.38,114.26 494.88,114.30 495.40,114.33 495.92,114.37 496.46,114.40 497.01,114.43 497.58,114.47 498.16,114.50 498.76,114.53 499.37,114.57 500.00,114.60 500.43,114.62 500.88,114.64 501.34,114.67 501.82,114.69 502.30,114.72 502.80,114.74 503.31,114.76 503.82,114.79 504.34,114.81 504.87,114.84 505.41,114.86 505.95,114.89 506.50,114.91 507.04,114.93 507.59,114.96 508.14,114.98 508.70,115.00 509.24,115.02 509.79,115.04 510.34,115.06 510.88,115.08 511.41,115.10 511.94,115.12 512.47,115.13 512.98,115.15 513.49,115.16 513.98,115.17 514.47,115.18 514.94,115.19 515.40,115.20 515.98,115.21 516.56,115.21 517.12,115.22 517.67,115.22 518.20,115.22 518.73,115.22 519.26,115.22 519.77,115.22 520.28,115.22 520.78,115.21 521.28,115.20 521.77,115.20 522.26,115.19 522.75,115.17 523.24,115.16 523.72,115.15 524.21,115.13 524.70,115.11 525.19,115.09 525.69,115.07 526.19,115.05 526.69,115.03 527.20,115.00 527.72,114.97 528.25,114.94 528.78,114.91 529.33,114.87 529.88,114.83 530.43,114.79 530.99,114.74 531.54,114.70 532.10,114.65 532.66,114.60 533.21,114.56 533.75,114.51 534.29,114.46 534.82,114.41 535.35,114.36 535.86,114.31 536.36,114.26 536.84,114.21 537.31,114.17 537.76,114.12 538.20,114.08 538.61,114.04 539.00,114.00 539.75,113.93 540.40,113.86 540.99,113.80 541.51,113.74 541.99,113.68 542.44,113.63 542.87,113.57 543.30,113.51 543.73,113.45 544.20,113.38 544.70,113.30 545.19,113.22 545.68,113.15 546.19,113.07 546.69,112.99 547.20,112.91 547.71,112.82 548.21,112.73 548.71,112.63 549.20,112.53 549.68,112.43 550.15,112.32 550.60,112.20 551.13,112.05 551.65,111.88 552.16,111.70 552.66,111.51 553.15,111.31 553.63,111.12 554.09,110.93 554.54,110.74 554.98,110.56 555.40,110.40 555.96,110.18 556.47,109.97 556.95,109.77 557.41,109.57 557.88,109.40 558.37,109.24 558.90,109.10 559.39,108.99 559.90,108.89 560.42,108.81 560.95,108.73 561.49,108.67 562.05,108.63 562.62,108.60 563.20,108.60 563.67,108.62 564.14,108.65 564.61,108.70 565.09,108.76 565.58,108.83 566.08,108.91 566.60,108.99 567.14,109.06 567.71,109.14 568.30,109.20 568.75,109.25 569.23,109.30 569.73,109.36 570.25,109.42 570.78,109.48 571.32,109.54 571.87,109.60 572.41,109.65 572.95,109.70 573.48,109.75 573.99,109.78 574.49,109.80 574.96,109.81 575.40,109.80 576.04,109.76 576.65,109.69 577.22,109.59 577.76,109.47 578.28,109.33 578.78,109.19 579.26,109.05 579.74,108.92 580.20,108.80 580.77,108.64 581.29,108.46 581.79,108.27 582.27,108.09 582.74,107.94 583.21,107.84 583.70,107.80 584.21,107.83 584.74,107.93 585.27,108.06 585.79,108.23 586.29,108.42 586.77,108.61 587.20,108.80 587.76,109.09 588.28,109.44 588.74,109.78 589.12,110.09 589.40,110.30" fill="none" stroke="#2a2a2a" stroke-width="1.25" stroke-linejoin="round"/>
<path d="M341.3,218.2 V35.8 H589.5 V218.2 Z" fill="none" stroke="#1a1a1a" stroke-width="1.6"/>
<path d="M359.96,218.2 v3.6 M382.91,218.2 v2.4 M405.86,218.2 v3.6 M428.81,218.2 v2.4 M451.76,218.2 v3.6 M474.71,218.2 v2.4 M497.66,218.2 v3.6 M520.61,218.2 v2.4 M543.56,218.2 v3.6 M566.51,218.2 v2.4 M589.46,218.2 v3.6" stroke="#1a1a1a" stroke-width="1.2"/>
<text x="359.96" y="232.9" text-anchor="middle" style="font-family:'Liberation Sans',sans-serif;font-weight:bold;stroke:#000;stroke-width:0.25px;font-size:10.9px">500</text>
<text x="405.86" y="232.9" text-anchor="middle" style="font-family:'Liberation Sans',sans-serif;font-weight:bold;stroke:#000;stroke-width:0.25px;font-size:10.9px">1000</text>
<text x="451.76" y="232.9" text-anchor="middle" style="font-family:'Liberation Sans',sans-serif;font-weight:bold;stroke:#000;stroke-width:0.25px;font-size:10.9px">1500</text>
<text x="497.66" y="232.9" text-anchor="middle" style="font-family:'Liberation Sans',sans-serif;font-weight:bold;stroke:#000;stroke-width:0.25px;font-size:10.9px">2000</text>
<text x="543.56" y="232.9" text-anchor="middle" style="font-family:'Liberation Sans',sans-serif;font-weight:bold;stroke:#000;stroke-width:0.25px;font-size:10.9px">2500</text>
<text x="589.46" y="232.9" text-anchor="middle" style="font-family:'Liberation Sans',sans-serif;font-weight:bold;stroke:#000;stroke-width:0.25px;font-size:10.9px">3000</text>
<text x="399.3" y="249.8" style="font-family:'Liberation Sans',sans-serif;font-weight:bold;stroke:#000;stroke-width:0.25px;font-size:14.55px">Wavenumber (cm<tspan dy="-4.3" dx="0.5" style="font-size:8px">-1</tspan><tspan dy="4.3" dx="-0.6">)</tspan></text>
<text transform="translate(318.1,190.45) rotate(-90)" style="font-family:'Liberation Sans',sans-serif;font-weight:bold;stroke:#000;stroke-width:0.25px;font-size:15px">Intensity (A. U.)</text>
<text x="566.92" y="53.3" style="font-family:'Liberation Sans',sans-serif;font-weight:bold;stroke:#000;stroke-width:0.25px;font-size:13.7px">(b)</text>
<text x="491.07" y="107.5" style="font-family:'Liberation Sans',sans-serif;font-weight:bold;stroke:#000;stroke-width:0.25px;font-size:11.8px">RGO film</text>
<text x="485.64" y="137" style="font-family:'Liberation Sans',sans-serif;font-weight:bold;stroke:#000;stroke-width:0.25px;font-size:11.9px">SnO<tspan dy="5" style="font-size:7.2px">2</tspan><tspan dy="-5"> film</tspan></text>
<text x="474.84" y="179.7" style="font-family:'Liberation Sans',sans-serif;font-weight:bold;stroke:#000;stroke-width:0.25px;font-size:12px">SnO<tspan dy="5" style="font-size:7.2px">2</tspan><tspan dy="-5">-RGO film</tspan></text>
<text x="482.44" y="207.8" style="font-family:'Liberation Sans',sans-serif;font-weight:bold;stroke:#000;stroke-width:0.25px;font-size:12px">SnO<tspan dy="4.8" style="font-size:7.2px">2</tspan><tspan dy="-4.8"> bulk</tspan></text>
<text x="357.35" y="10" style="font-family:'Liberation Sans',sans-serif;font-weight:bold;stroke:#000;stroke-width:0.25px;font-size:11.8px">SnO<tspan dy="3.5" style="font-size:8.4px">2</tspan></text>
<path d="M342.8,20 Q342.8,15.5 345.5,15.5 H367.5 Q369.4,15.5 369.4,11.8 Q369.4,15.5 371.3,15.5 H393 Q395.4,15.5 395.4,20" fill="none" stroke="#222" stroke-width="1.2"/>
<text transform="translate(348.50,27.20) scale(0.9,1)" style="font-family:'Liberation Serif',serif;font-size:10.8px" fill="#333" stroke="#333" stroke-width="0.25">E</text>
<text transform="translate(353.90,30.10) scale(0.9,1)" style="font-family:'Liberation Serif',serif;font-size:7.6px" fill="#333" stroke="#333" stroke-width="0.25">g</text>
<text transform="translate(361.20,27.20) scale(0.9,1)" style="font-family:'Liberation Serif',serif;font-size:10.8px" fill="#333" stroke="#333" stroke-width="0.25">S</text>
<text transform="translate(369.10,27.30) scale(0.9,1)" style="font-family:'Liberation Serif',serif;font-size:10.8px" fill="#333" stroke="#333" stroke-width="0.25">A</text>
<text transform="translate(375.70,30.40) scale(0.9,1)" style="font-family:'Liberation Serif',serif;font-size:7.3px" fill="#333" stroke="#333" stroke-width="0.25">1g</text>
<text transform="translate(382.30,27.30) scale(0.9,1)" style="font-family:'Liberation Serif',serif;font-size:10.8px" fill="#333" stroke="#333" stroke-width="0.25">B</text>
<text transform="translate(388.60,30.40) scale(0.9,1)" style="font-family:'Liberation Serif',serif;font-size:7.3px" fill="#333" stroke="#333" stroke-width="0.25">2g</text>
<text x="399.40" y="11.6" style="font-family:'Liberation Sans',sans-serif;font-weight:bold;stroke:#000;stroke-width:0.25px;font-size:10.1px">Glass</text>
<text x="487.90" y="9.9" style="font-family:'Liberation Sans',sans-serif;font-weight:bold;stroke:#000;stroke-width:0.25px;font-size:9.9px">Graphene</text>
<path d="M434.5,19.3 H502.6 Q504.2,19.3 504.3,15.8 Q504.4,19.3 506,19.3 H574.3" fill="none" stroke="#222" stroke-width="1.1"/>
<path d="M432.4,24 Q432.2,19.6 435.2,19.3" fill="none" stroke="#111" stroke-width="1.9" stroke-linecap="round"/>
<path d="M573.8,19.3 Q576.6,19.5 576.9,23.7" fill="none" stroke="#111" stroke-width="1.9" stroke-linecap="round"/>
<text x="434.92" y="29" style="font-family:'Liberation Sans',sans-serif;font-weight:bold;stroke:#000;stroke-width:0.25px;font-size:9.7px">D</text>
<text x="458.70" y="29" style="font-family:'Liberation Sans',sans-serif;font-weight:bold;stroke:#000;stroke-width:0.25px;font-size:9.9px">G</text>
<text x="557.50" y="31.1" style="font-family:'Liberation Sans',sans-serif;font-weight:bold;stroke:#000;stroke-width:0.25px;font-size:9.9px">2D</text>
</svg>
</body></html>
